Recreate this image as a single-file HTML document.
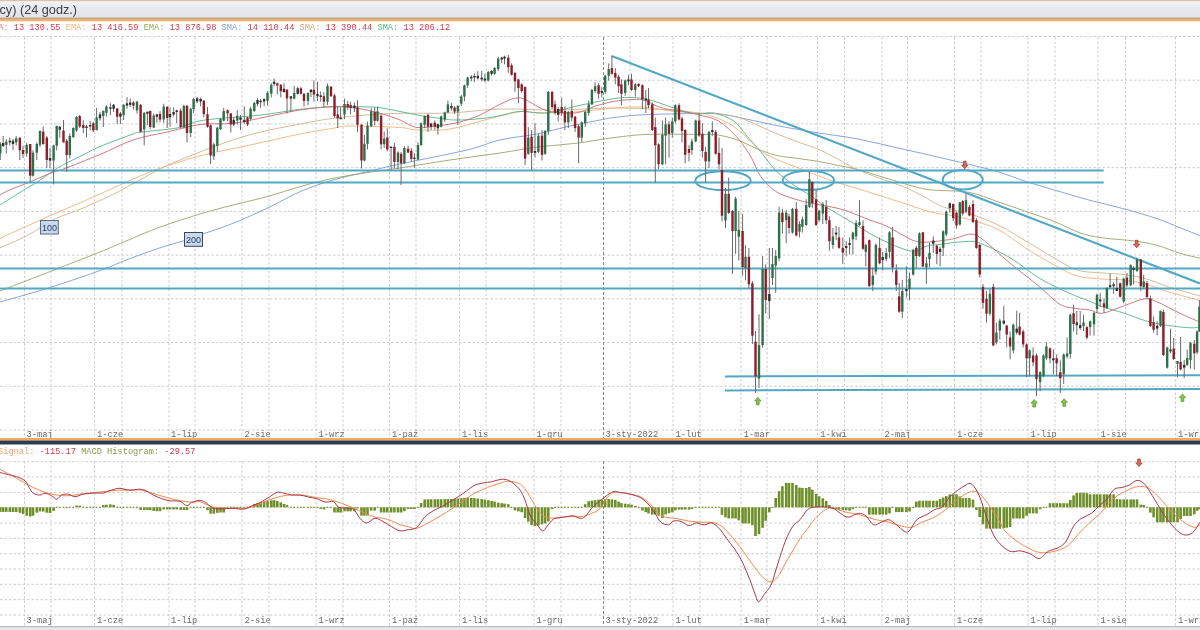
<!DOCTYPE html>
<html><head><meta charset="utf-8"><title>Chart</title>
<style>html,body{margin:0;padding:0;background:#fff;width:1200px;height:630px;overflow:hidden}svg{display:block;filter:blur(0.3px)}</style>
</head><body><svg width="1200" height="630" viewBox="0 0 1200 630"><rect width="1200" height="630" fill="#fff"/><g stroke="#cdcdcd" stroke-width="1" stroke-dasharray="2.5,2"><line x1="0" y1="36.5" x2="1200" y2="36.5"/><line x1="0" y1="80.2" x2="1200" y2="80.2"/><line x1="0" y1="123.9" x2="1200" y2="123.9"/><line x1="0" y1="167.7" x2="1200" y2="167.7"/><line x1="0" y1="211.4" x2="1200" y2="211.4"/><line x1="0" y1="255.1" x2="1200" y2="255.1"/><line x1="0" y1="298.8" x2="1200" y2="298.8"/><line x1="0" y1="342.5" x2="1200" y2="342.5"/><line x1="0" y1="386.3" x2="1200" y2="386.3"/><line x1="0" y1="430.0" x2="1200" y2="430.0"/><line x1="0" y1="461.7" x2="1200" y2="461.7"/><line x1="0" y1="477.0" x2="1200" y2="477.0"/><line x1="0" y1="492.4" x2="1200" y2="492.4"/><line x1="0" y1="507.7" x2="1200" y2="507.7"/><line x1="0" y1="523.0" x2="1200" y2="523.0"/><line x1="0" y1="538.4" x2="1200" y2="538.4"/><line x1="0" y1="553.7" x2="1200" y2="553.7"/><line x1="0" y1="569.0" x2="1200" y2="569.0"/><line x1="0" y1="584.3" x2="1200" y2="584.3"/><line x1="0" y1="599.7" x2="1200" y2="599.7"/><line x1="0" y1="615.0" x2="1200" y2="615.0"/><line x1="24.5" y1="37" x2="24.5" y2="438"/><line x1="24.5" y1="461" x2="24.5" y2="626"/><line x1="51" y1="37" x2="51" y2="438"/><line x1="51" y1="461" x2="51" y2="626"/><line x1="94.5" y1="37" x2="94.5" y2="438"/><line x1="94.5" y1="461" x2="94.5" y2="626"/><line x1="122" y1="37" x2="122" y2="438"/><line x1="122" y1="461" x2="122" y2="626"/><line x1="169" y1="37" x2="169" y2="438"/><line x1="169" y1="461" x2="169" y2="626"/><line x1="195" y1="37" x2="195" y2="438"/><line x1="195" y1="461" x2="195" y2="626"/><line x1="242" y1="37" x2="242" y2="438"/><line x1="242" y1="461" x2="242" y2="626"/><line x1="269" y1="37" x2="269" y2="438"/><line x1="269" y1="461" x2="269" y2="626"/><line x1="316" y1="37" x2="316" y2="438"/><line x1="316" y1="461" x2="316" y2="626"/><line x1="343" y1="37" x2="343" y2="438"/><line x1="343" y1="461" x2="343" y2="626"/><line x1="389.5" y1="37" x2="389.5" y2="438"/><line x1="389.5" y1="461" x2="389.5" y2="626"/><line x1="416" y1="37" x2="416" y2="438"/><line x1="416" y1="461" x2="416" y2="626"/><line x1="459.5" y1="37" x2="459.5" y2="438"/><line x1="459.5" y1="461" x2="459.5" y2="626"/><line x1="486" y1="37" x2="486" y2="438"/><line x1="486" y1="461" x2="486" y2="626"/><line x1="534" y1="37" x2="534" y2="438"/><line x1="534" y1="461" x2="534" y2="626"/><line x1="561" y1="37" x2="561" y2="438"/><line x1="561" y1="461" x2="561" y2="626"/><line x1="630" y1="37" x2="630" y2="438"/><line x1="630" y1="461" x2="630" y2="626"/><line x1="673" y1="37" x2="673" y2="438"/><line x1="673" y1="461" x2="673" y2="626"/><line x1="700" y1="37" x2="700" y2="438"/><line x1="700" y1="461" x2="700" y2="626"/><line x1="741" y1="37" x2="741" y2="438"/><line x1="741" y1="461" x2="741" y2="626"/><line x1="767" y1="37" x2="767" y2="438"/><line x1="767" y1="461" x2="767" y2="626"/><line x1="817.5" y1="37" x2="817.5" y2="438"/><line x1="817.5" y1="461" x2="817.5" y2="626"/><line x1="844.5" y1="37" x2="844.5" y2="438"/><line x1="844.5" y1="461" x2="844.5" y2="626"/><line x1="882" y1="37" x2="882" y2="438"/><line x1="882" y1="461" x2="882" y2="626"/><line x1="907.5" y1="37" x2="907.5" y2="438"/><line x1="907.5" y1="461" x2="907.5" y2="626"/><line x1="954.5" y1="37" x2="954.5" y2="438"/><line x1="954.5" y1="461" x2="954.5" y2="626"/><line x1="981" y1="37" x2="981" y2="438"/><line x1="981" y1="461" x2="981" y2="626"/><line x1="1028" y1="37" x2="1028" y2="438"/><line x1="1028" y1="461" x2="1028" y2="626"/><line x1="1055" y1="37" x2="1055" y2="438"/><line x1="1055" y1="461" x2="1055" y2="626"/><line x1="1098" y1="37" x2="1098" y2="438"/><line x1="1098" y1="461" x2="1098" y2="626"/><line x1="1125.5" y1="37" x2="1125.5" y2="438"/><line x1="1125.5" y1="461" x2="1125.5" y2="626"/><line x1="1175.5" y1="37" x2="1175.5" y2="438"/><line x1="1175.5" y1="461" x2="1175.5" y2="626"/></g><g stroke="#858585" stroke-width="1" stroke-dasharray="3,2" shape-rendering="crispEdges"><line x1="603.5" y1="37" x2="603.5" y2="438"/><line x1="603.5" y1="461" x2="603.5" y2="626"/></g><g font-family="Liberation Mono, monospace" font-size="8.8" fill="#6a6a6a"><text x="26.5" y="437.3">3-maj</text><text x="26.5" y="622.6">3-maj</text><text x="97" y="437.3">1-cze</text><text x="97" y="622.6">1-cze</text><text x="171" y="437.3">1-lip</text><text x="171" y="622.6">1-lip</text><text x="244.5" y="437.3">2-sie</text><text x="244.5" y="622.6">2-sie</text><text x="318.5" y="437.3">1-wrz</text><text x="318.5" y="622.6">1-wrz</text><text x="392" y="437.3">1-paź</text><text x="392" y="622.6">1-paź</text><text x="462" y="437.3">1-lis</text><text x="462" y="622.6">1-lis</text><text x="536.5" y="437.3">1-gru</text><text x="536.5" y="622.6">1-gru</text><text x="605.5" y="437.3">3-sty-2022</text><text x="605.5" y="622.6">3-sty-2022</text><text x="675.5" y="437.3">1-lut</text><text x="675.5" y="622.6">1-lut</text><text x="743.7" y="437.3">1-mar</text><text x="743.7" y="622.6">1-mar</text><text x="820.3" y="437.3">1-kwi</text><text x="820.3" y="622.6">1-kwi</text><text x="884.5" y="437.3">2-maj</text><text x="884.5" y="622.6">2-maj</text><text x="957" y="437.3">1-cze</text><text x="957" y="622.6">1-cze</text><text x="1030.5" y="437.3">1-lip</text><text x="1030.5" y="622.6">1-lip</text><text x="1100.5" y="437.3">1-sie</text><text x="1100.5" y="622.6">1-sie</text><text x="1178" y="437.3">1-wrz</text><text x="1178" y="622.6">1-wrz</text></g><path d="M0.0,302.0 C8.3,299.6 33.1,292.8 50.0,287.5 C66.9,282.2 88.8,274.6 101.6,270.0 C114.4,265.4 117.3,263.4 127.0,259.7 C136.7,256.0 150.7,250.9 160.0,247.8 C169.3,244.7 176.3,243.1 183.0,241.0 C189.7,238.9 191.7,237.9 200.0,235.0 C208.3,232.1 221.8,227.8 233.0,223.3 C244.2,218.9 255.8,213.6 267.0,208.3 C278.2,203.0 289.0,196.4 300.0,191.7 C311.0,187.0 321.8,183.3 333.0,180.0 C344.2,176.7 355.8,174.4 367.0,171.7 C378.2,169.0 383.3,167.6 400.0,164.0 C416.7,160.4 450.3,154.0 467.0,150.0 C483.7,146.0 488.2,142.7 500.0,140.0 C511.8,137.3 526.8,136.0 538.0,133.8 C549.2,131.6 556.7,129.0 567.0,126.7 C577.3,124.4 592.2,121.5 600.0,120.0 C607.8,118.5 606.8,118.5 614.0,117.6 C621.2,116.7 628.7,115.5 643.0,114.8 C657.3,114.1 686.9,113.6 700.0,113.5 C713.1,113.4 712.8,113.1 721.7,114.3 C730.6,115.5 743.8,118.6 753.5,120.6 C763.2,122.6 769.2,124.2 780.0,126.2 C790.8,128.2 805.3,130.8 818.0,132.9 C830.7,135.0 843.3,136.2 856.0,138.6 C868.7,141.0 881.3,144.2 894.0,147.1 C906.7,149.9 919.6,152.8 932.0,155.7 C944.4,158.6 957.8,161.7 968.6,164.3 C979.4,166.9 987.5,168.6 997.0,171.4 C1006.5,174.2 1016.2,178.3 1025.7,181.4 C1035.2,184.5 1043.8,186.9 1054.3,190.0 C1064.8,193.1 1077.2,196.8 1088.9,200.0 C1100.6,203.2 1112.9,205.8 1124.4,208.9 C1135.9,212.1 1148.5,215.8 1157.8,218.9 C1167.1,222.1 1173.0,225.0 1180.0,227.8 C1187.0,230.6 1196.7,234.3 1200.0,235.6" fill="none" stroke="#7c9ad8" stroke-width="0.9"/><path d="M0.0,291.0 C9.0,287.5 38.2,276.2 54.0,270.0 C69.8,263.8 82.8,258.9 95.0,254.0 C107.2,249.1 116.2,245.1 127.0,240.6 C137.8,236.1 147.8,231.5 160.0,227.1 C172.2,222.7 187.8,217.7 200.0,214.0 C212.2,210.3 221.8,207.9 233.0,205.0 C244.2,202.1 255.8,199.8 267.0,196.7 C278.2,193.6 289.0,189.8 300.0,186.7 C311.0,183.6 321.8,180.6 333.0,178.3 C344.2,176.0 355.8,174.4 367.0,172.7 C378.2,171.0 386.2,170.1 400.0,168.0 C413.8,165.9 433.3,162.5 450.0,160.0 C466.7,157.5 485.3,155.2 500.0,153.0 C514.7,150.8 525.3,148.6 538.0,147.0 C550.7,145.4 563.3,144.9 576.0,143.3 C588.7,141.7 602.0,139.1 614.0,137.6 C626.0,136.1 633.7,134.9 648.0,134.4 C662.3,133.9 688.2,134.3 700.0,134.4 C711.8,134.5 712.3,134.3 718.6,135.2 C724.9,136.1 731.2,137.8 737.6,140.0 C744.0,142.2 750.4,146.1 756.7,148.6 C763.1,151.1 768.7,153.5 775.7,155.2 C782.8,156.9 792.0,157.6 799.0,158.6 C806.0,159.6 811.7,160.3 818.0,161.4 C824.3,162.5 830.7,163.9 837.0,165.2 C843.3,166.5 849.7,167.4 856.0,169.0 C862.3,170.6 868.7,172.9 875.0,174.8 C881.3,176.7 887.7,178.6 894.0,180.5 C900.3,182.4 906.7,184.6 913.0,186.2 C919.3,187.8 922.7,189.0 932.0,190.0 C941.3,191.0 957.8,190.4 968.6,192.3 C979.4,194.2 987.5,198.2 997.0,201.4 C1006.5,204.6 1016.2,208.1 1025.7,211.4 C1035.2,214.7 1045.2,217.8 1054.3,221.4 C1063.3,225.0 1072.0,230.2 1080.0,232.9 C1088.0,235.6 1092.7,236.4 1102.0,237.8 C1111.3,239.2 1126.3,239.8 1135.6,241.1 C1144.9,242.4 1150.4,243.6 1157.8,245.6 C1165.2,247.6 1173.0,251.2 1180.0,253.3 C1187.0,255.4 1196.7,257.4 1200.0,258.2" fill="none" stroke="#9ca468" stroke-width="0.9"/><path d="M0.0,247.8 C4.2,246.0 18.3,240.0 25.0,236.7 C31.7,233.4 34.8,230.9 40.0,227.9 C45.2,224.9 49.5,221.4 56.0,218.4 C62.5,215.4 69.8,213.5 79.0,209.7 C88.2,205.9 101.7,199.9 111.0,195.4 C120.3,190.9 126.0,187.5 135.0,182.7 C144.0,177.9 153.6,171.8 165.0,166.5 C176.4,161.2 192.2,155.0 203.5,150.6 C214.8,146.2 223.6,143.1 233.0,140.0 C242.4,136.9 248.8,134.9 260.0,132.2 C271.2,129.5 287.8,126.3 300.0,124.0 C312.2,121.7 321.8,119.8 333.0,118.3 C344.2,116.8 355.8,115.8 367.0,115.0 C378.2,114.2 386.2,113.6 400.0,113.3 C413.8,113.0 433.3,113.7 450.0,113.0 C466.7,112.3 482.2,109.5 500.0,109.0 C517.8,108.5 538.0,110.2 557.0,110.0 C576.0,109.8 595.0,108.0 614.0,108.0 C633.0,108.0 656.7,109.2 671.0,110.0 C685.3,110.8 692.7,112.5 700.0,113.0 C707.3,113.5 708.5,112.6 714.8,113.3 C721.1,114.0 730.6,115.2 737.6,117.1 C744.6,119.0 750.4,122.1 756.7,124.8 C763.1,127.5 768.7,130.4 775.7,133.3 C782.8,136.2 792.0,139.8 799.0,142.4 C806.0,145.0 811.7,146.3 818.0,149.0 C824.3,151.7 830.7,155.3 837.0,158.6 C843.3,161.9 848.8,165.7 856.0,169.0 C863.2,172.3 871.8,175.3 880.0,178.4 C888.2,181.5 897.7,184.2 905.0,187.3 C912.3,190.4 917.6,193.5 924.0,196.8 C930.4,200.1 935.0,203.9 943.5,207.0 C952.0,210.1 965.6,212.3 975.0,215.5 C984.4,218.7 991.5,221.8 1000.0,226.0 C1008.5,230.2 1016.7,235.7 1025.7,241.0 C1034.8,246.3 1045.8,253.2 1054.3,258.0 C1062.8,262.8 1069.0,267.5 1077.0,270.0 C1085.0,272.5 1094.2,272.2 1102.0,273.0 C1109.8,273.8 1116.5,273.5 1124.0,274.5 C1131.5,275.5 1139.2,276.9 1146.7,279.0 C1154.2,281.1 1160.0,284.2 1168.9,287.0 C1177.8,289.8 1194.8,294.5 1200.0,296.0" fill="none" stroke="#cfb48c" stroke-width="0.9"/><path d="M0.0,238.3 C4.2,236.4 16.5,230.8 25.0,227.0 C33.5,223.2 42.0,219.1 51.0,215.2 C60.0,211.2 69.0,207.7 79.0,203.3 C89.0,198.9 100.3,193.8 111.0,189.0 C121.7,184.2 134.0,178.6 143.0,174.8 C152.0,171.1 154.9,169.8 165.0,166.5 C175.1,163.2 189.3,158.6 203.5,155.0 C217.7,151.4 233.9,148.5 250.0,145.0 C266.1,141.5 286.2,136.8 300.0,134.0 C313.8,131.2 324.7,129.6 333.0,128.3 C341.3,127.0 338.8,126.1 350.0,126.0 C361.2,125.9 388.8,126.8 400.0,127.5 C411.2,128.2 408.7,129.8 417.0,130.0 C425.3,130.2 438.7,130.7 450.0,129.0 C461.3,127.3 473.3,122.9 485.0,120.0 C496.7,117.1 511.2,112.7 520.0,111.5 C528.8,110.3 528.7,112.8 538.0,112.9 C547.3,113.0 563.3,112.7 576.0,111.9 C588.7,111.1 602.8,108.8 614.0,108.0 C625.2,107.2 633.5,106.6 643.0,107.1 C652.5,107.6 661.5,110.0 671.0,111.0 C680.5,112.0 693.7,112.7 700.0,113.4 C706.3,114.1 704.3,113.6 709.0,115.2 C713.7,116.8 722.3,119.7 728.0,122.9 C733.7,126.1 737.9,129.7 743.3,134.3 C748.7,138.9 755.1,146.4 760.5,150.5 C765.9,154.6 769.3,156.1 775.7,159.0 C782.1,161.9 792.0,165.3 799.0,168.1 C806.0,170.9 811.7,173.3 818.0,175.7 C824.3,178.1 830.7,180.3 837.0,182.4 C843.3,184.5 848.8,185.9 856.0,188.1 C863.2,190.3 871.8,193.0 880.0,195.6 C888.2,198.2 896.9,201.1 905.4,203.8 C913.9,206.5 923.4,210.1 930.8,212.0 C938.2,213.9 942.4,213.7 949.8,215.2 C957.2,216.7 966.6,218.4 975.0,221.0 C983.4,223.6 991.5,226.0 1000.0,230.5 C1008.5,235.0 1016.7,242.2 1025.7,248.0 C1034.8,253.8 1045.8,260.3 1054.3,265.0 C1062.8,269.7 1069.0,273.7 1077.0,276.0 C1085.0,278.3 1094.2,278.3 1102.0,279.0 C1109.8,279.7 1116.5,279.1 1124.0,280.0 C1131.5,280.9 1139.2,282.5 1146.7,284.5 C1154.2,286.5 1160.0,289.3 1168.9,292.0 C1177.8,294.7 1194.8,299.1 1200.0,300.5" fill="none" stroke="#f3b27c" stroke-width="0.9"/><path d="M0.0,205.0 C4.0,202.5 17.7,193.8 23.8,190.0 C29.9,186.2 31.8,185.6 36.5,182.5 C41.2,179.4 47.5,174.7 52.0,171.7 C56.5,168.7 58.3,167.4 63.5,164.6 C68.7,161.8 76.9,158.0 83.0,155.0 C89.1,152.0 91.7,150.0 100.0,146.5 C108.3,143.0 126.3,136.4 133.0,134.0 C139.7,131.6 132.5,133.2 140.0,132.2 C147.5,131.2 167.4,129.8 178.0,127.8 C188.6,125.8 189.8,122.3 203.5,120.2 C217.2,118.1 243.9,116.9 260.0,115.1 C276.1,113.3 287.8,110.7 300.0,109.3 C312.2,107.9 323.0,107.1 333.0,106.7 C343.0,106.3 352.2,106.5 360.0,106.7 C367.8,106.9 373.3,106.9 380.0,107.7 C386.7,108.5 393.3,110.2 400.0,111.5 C406.7,112.8 412.5,114.2 420.0,115.5 C427.5,116.8 439.2,118.2 445.0,119.0 C450.8,119.8 450.8,119.9 455.0,120.0 C459.2,120.1 464.2,119.9 470.0,119.5 C475.8,119.1 484.2,118.3 490.0,117.5 C495.8,116.7 500.0,115.5 505.0,114.5 C510.0,113.5 512.8,111.8 520.0,111.5 C527.2,111.2 538.7,113.8 548.0,112.9 C557.3,112.0 565.0,108.6 576.0,106.2 C587.0,103.8 604.5,100.0 614.0,98.6 C623.5,97.2 627.2,97.4 633.0,97.6 C638.8,97.8 642.3,97.9 648.6,99.5 C654.9,101.1 664.1,104.8 671.0,107.0 C677.9,109.2 685.2,111.8 690.0,112.9 C694.8,114.0 695.9,113.7 700.0,113.8 C704.1,113.9 709.2,112.1 714.8,113.3 C720.4,114.5 728.4,117.2 733.8,121.0 C739.2,124.8 742.5,131.1 747.0,136.2 C751.5,141.3 755.7,145.7 760.5,151.4 C765.3,157.1 770.0,164.8 775.7,170.5 C781.4,176.2 789.1,181.6 794.8,185.7 C800.5,189.8 804.9,191.7 810.0,195.2 C815.1,198.7 818.6,202.1 825.4,206.5 C832.2,210.9 842.3,216.6 850.8,221.7 C859.3,226.8 867.7,232.6 876.2,237.0 C884.7,241.4 895.2,246.1 901.6,248.4 C908.0,250.7 910.1,251.4 914.3,251.0 C918.5,250.6 922.7,247.1 927.0,246.0 C931.3,244.9 933.1,245.1 940.0,244.3 C946.9,243.5 961.5,241.4 968.6,241.4 C975.8,241.4 975.8,241.4 982.9,244.3 C990.0,247.2 1001.9,252.9 1011.4,258.6 C1020.9,264.3 1030.5,272.9 1040.0,278.6 C1049.5,284.3 1060.3,289.1 1068.6,292.9 C1076.9,296.7 1084.4,299.1 1090.0,301.4 C1095.6,303.7 1096.5,304.7 1102.2,306.7 C1107.9,308.7 1117.0,310.9 1124.4,313.3 C1131.8,315.7 1139.3,319.1 1146.7,321.1 C1154.1,323.2 1161.5,324.5 1168.9,325.6 C1176.3,326.7 1185.9,327.6 1191.1,327.8 C1196.3,328.0 1198.5,326.9 1200.0,326.7" fill="none" stroke="#52b487" stroke-width="0.9"/><path d="M0.0,195.0 C1.6,194.2 4.7,192.1 9.5,190.0 C14.3,187.9 21.5,185.4 28.6,182.5 C35.7,179.6 46.2,174.8 52.0,172.5 C57.8,170.2 55.5,172.0 63.5,169.0 C71.5,166.0 88.4,159.3 100.0,154.5 C111.6,149.7 121.8,143.8 133.0,140.0 C144.2,136.2 155.8,134.6 167.0,132.0 C178.2,129.4 189.0,126.0 200.0,124.5 C211.0,123.0 221.8,124.6 233.0,123.3 C244.2,122.0 255.8,118.9 267.0,116.7 C278.2,114.5 289.0,111.7 300.0,110.0 C311.0,108.3 323.5,107.0 333.0,106.7 C342.5,106.4 349.2,107.2 357.0,108.3 C364.8,109.4 372.8,111.3 380.0,113.3 C387.2,115.2 393.8,117.6 400.0,120.0 C406.2,122.4 410.3,126.6 417.0,127.5 C423.7,128.4 432.8,126.4 440.0,125.5 C447.2,124.6 453.3,123.8 460.0,122.0 C466.7,120.2 473.3,118.0 480.0,115.0 C486.7,112.0 494.2,107.1 500.0,104.3 C505.8,101.5 510.8,99.0 515.0,98.2 C519.2,97.4 519.5,97.4 525.0,99.5 C530.5,101.6 539.5,108.8 548.0,111.0 C556.5,113.2 568.2,113.7 576.0,112.9 C583.8,112.1 588.7,108.1 595.0,106.2 C601.3,104.3 607.7,102.5 614.0,101.4 C620.3,100.3 627.8,99.7 633.0,99.5 C638.2,99.3 640.2,99.1 645.0,100.5 C649.8,101.9 654.5,105.9 662.0,108.0 C669.5,110.1 683.8,111.7 690.0,112.9 C696.2,114.1 694.7,113.9 699.5,115.2 C704.3,116.5 712.2,117.2 718.6,121.0 C725.0,124.8 732.2,132.0 737.6,138.0 C743.0,144.0 747.2,150.6 751.0,157.0 C754.8,163.4 756.4,170.5 760.5,176.2 C764.6,181.9 770.0,187.6 775.7,191.4 C781.4,195.2 789.1,197.1 794.8,199.0 C800.5,200.9 804.6,201.8 810.0,203.0 C815.4,204.2 821.0,204.7 827.0,206.0 C833.0,207.3 838.8,208.3 846.0,210.7 C853.2,213.1 863.5,217.7 870.0,220.2 C876.5,222.7 879.7,223.1 885.0,225.5 C890.3,227.9 896.7,231.8 901.6,234.4 C906.5,237.0 910.1,239.5 914.3,240.8 C918.5,242.1 920.6,242.4 927.0,242.1 C933.4,241.8 945.5,240.3 952.4,239.0 C959.3,237.7 964.5,234.9 968.6,234.3 C972.7,233.8 973.8,234.0 977.1,235.7 C980.4,237.4 982.9,239.5 988.6,244.3 C994.3,249.1 1002.8,257.2 1011.4,264.3 C1020.0,271.4 1031.9,280.4 1040.0,287.1 C1048.1,293.8 1053.8,300.7 1060.0,304.3 C1066.2,307.9 1072.0,307.7 1077.0,308.6 C1082.0,309.6 1085.8,309.2 1090.0,310.0 C1094.2,310.8 1096.5,314.0 1102.2,313.3 C1107.9,312.6 1117.4,308.0 1124.4,305.6 C1131.4,303.2 1138.8,299.5 1144.4,298.9 C1150.0,298.3 1151.9,299.8 1157.8,302.2 C1163.7,304.6 1173.0,310.0 1180.0,313.3 C1187.0,316.6 1196.7,320.7 1200.0,322.2" fill="none" stroke="#cc6a70" stroke-width="0.9"/><g stroke="#52a8c4" stroke-width="2" fill="none"><line x1="0" y1="170.5" x2="1103.7" y2="170.5"/><line x1="0" y1="182.5" x2="1103.7" y2="182.5"/><line x1="0" y1="268.4" x2="1200" y2="268.4"/><line x1="0" y1="288.5" x2="1200" y2="288.5"/><line x1="725" y1="376.4" x2="1200" y2="375.2"/><line x1="725" y1="390.4" x2="1200" y2="389"/><line x1="611.7" y1="55.9" x2="1200" y2="283.5" stroke-width="2.1"/><ellipse cx="723" cy="180.7" rx="27.7" ry="9.4"/><ellipse cx="808.4" cy="180.4" rx="25.7" ry="9.6"/><ellipse cx="962.7" cy="179.8" rx="20" ry="9.7"/></g><path d="M0.3,142.0V160.0M3.2,136.0V147.0M6.3,139.0V153.5M9.8,137.6V145.6M13.0,139.0V150.0M16.2,136.0V145.6M19.8,137.6V160.0M23.0,145.6V158.0M26.7,143.0V156.7M30.2,144.0V182.0M33.0,150.3V176.5M36.8,142.4V160.0M40.0,130.5V147.0M43.2,126.5V144.8M46.8,136.0V167.8M50.0,148.0V167.8M53.6,144.8V184.4M56.7,125.7V150.3M59.8,125.7V137.6M63.5,120.0V142.4M66.7,139.0V171.7M69.8,133.6V158.3M73.3,127.3V137.6M76.5,116.2V132.0M79.7,115.0V128.0M83.3,120.2V132.9M86.5,125.0V137.6M90.2,121.0V130.5M93.3,121.7V132.0M96.6,108.0V130.5M100.0,112.0V120.7M103.3,110.4V127.0M106.4,105.3V116.7M110.4,103.3V115.2M113.6,104.0V112.0M117.2,108.0V124.0M120.4,112.0V124.0M123.6,104.0V120.0M127.0,97.0V108.8M130.2,98.5V107.0M133.4,101.0V109.6M137.0,100.9V113.6M140.6,104.0V132.6M144.2,112.0V145.3M147.4,111.7V125.0M150.2,110.5V129.0M153.7,113.6V128.0M156.9,113.7V122.8M160.0,111.2V122.3M163.7,103.7V122.8M167.2,106.4V128.0M170.0,107.3V126.7M173.6,107.3V116.4M176.7,109.6V123.0M180.7,108.4V128.6M183.9,104.8V128.6M187.0,104.8V142.3M190.7,107.9V137.2M193.6,97.7V113.0M197.1,96.7V103.0M200.6,97.5V106.3M203.8,100.0V117.4M207.5,107.0V127.7M210.6,124.5V164.2M213.8,142.8V160.0M217.3,126.9V151.5M220.5,118.2V130.0M223.7,107.9V121.3M227.6,109.4V121.3M230.8,113.4V132.5M233.7,117.4V126.1M237.3,110.2V124.5M240.5,115.0V130.0M244.3,106.3V123.7M247.5,116.6V126.0M250.6,106.6V119.8M254.3,101.8V111.8M257.5,98.3V106.3M260.6,99.0V107.9M264.1,98.3V106.3M267.5,91.2V105.5M271.3,83.3V97.5M274.1,78.5V86.4M277.3,82.5V94.4M280.8,84.0V97.5M284.0,83.3V92.8M287.0,88.9V113.5M290.9,96.2V112.0M294.2,85.9V99.4M297.7,86.7V94.6M300.9,86.7V94.6M304.0,93.0V106.5M308.0,92.2V105.0M310.9,89.0V97.0M313.9,80.3V101.7M317.5,81.9V101.0M320.7,91.4V101.7M323.9,92.2V107.3M327.5,83.5V105.0M331.0,85.9V97.0M334.5,93.8V117.6M337.7,106.5V128.0M340.6,107.3V119.2M344.5,98.6V119.2M347.7,101.0V109.7M350.6,101.7V114.4M354.4,102.5V112.0M357.5,100.0V131.9M361.5,124.0V168.4M364.4,135.0V161.3M367.5,121.6V149.4M371.2,108.1V127.1M374.7,107.3V125.6M377.5,106.5V121.6M381.1,114.4V149.4M384.2,131.6V148.0M387.3,128.4V151.3M391.1,146.2V169.7M394.4,143.0V168.4M398.0,151.3V169.0M401.1,152.0V185.0M404.4,146.2V164.0M408.1,145.6V153.2M411.3,148.0V161.4M414.4,153.2V167.8M418.0,142.4V160.2M421.1,122.7V145.8M424.7,115.5V128.3M428.0,114.0V132.0M431.1,122.7V129.8M434.8,120.3V129.8M437.9,123.5V134.6M441.1,115.5V127.5M444.8,111.6V121.9M447.9,100.5V113.2M451.4,102.9V110.8M454.6,106.0V114.0M457.8,105.0V125.0M461.3,94.9V106.0M464.4,84.6V101.3M467.6,76.7V87.8M471.3,75.1V81.4M474.4,73.5V82.2M477.8,71.1V79.5M481.7,71.0V81.4M484.9,73.8V82.4M488.3,71.0V81.4M491.6,70.0V75.7M494.6,67.1V74.8M498.2,56.7V71.0M501.7,56.7V63.3M504.5,55.7V64.3M508.3,54.8V72.9M511.6,63.3V75.7M515.0,71.9V91.9M518.4,78.6V103.3M521.7,83.3V92.9M525.1,86.2V165.2M528.3,127.1V154.8M531.6,130.0V170.0M535.0,123.3V157.6M538.4,133.8V152.9M542.0,130.0V160.5M545.1,130.0V154.8M548.3,91.0V134.8M552.1,91.0V109.0M555.0,100.5V114.8M558.2,107.1V121.4M561.7,97.6V115.7M564.9,106.2V130.0M568.3,111.0V128.1M571.8,99.5V121.4M575.1,116.0V131.9M578.6,124.3V163.3M581.8,121.4V142.4M585.2,111.0V127.1M588.7,100.5V115.7M591.9,89.0V105.2M595.1,82.4V92.9M598.6,83.3V98.6M601.8,87.1V97.6M605.2,74.8V93.8M608.7,63.3V80.5M611.9,55.7V74.8M615.3,68.1V84.3M618.6,74.8V92.9M621.4,79.5V105.2M625.2,79.5V95.7M628.5,74.8V85.2M631.5,73.8V91.0M635.3,83.3V96.7M638.6,83.3V87.1M642.4,84.3V109.0M645.8,90.0V112.9M648.5,88.1V108.1M652.3,102.4V131.0M655.3,117.6V182.4M658.6,143.3V169.0M662.4,120.5V165.2M665.6,117.6V164.3M669.0,121.4V157.6M672.3,117.6V137.6M675.3,104.3V123.3M679.0,103.3V120.5M682.0,116.7V142.4M685.2,129.0V163.3M689.0,145.2V161.4M691.9,138.6V154.8M695.7,119.5V142.4M699.1,112.9V136.7M702.4,123.3V157.6M705.6,147.1V182.4M709.0,131.0V168.1M712.3,121.4V135.7M715.7,130.0V154.8M719.0,137.6V169.0M722.0,148.0V221.4M725.5,188.0V228.0M728.7,177.6V213.8M732.5,210.0V273.8M735.6,196.7V253.8M738.8,211.0V260.5M742.6,213.8V275.7M745.5,245.2V280.5M748.9,248.0V288.0M752.4,281.0V344.0M755.5,331.0V392.9M759.0,314.3V388.0M762.6,256.0V347.6M765.7,264.3V313.0M769.3,248.0V319.0M772.5,248.0V285.0M775.7,250.0V292.9M779.1,206.9V261.2M782.4,208.8V233.6M786.2,209.8V243.1M789.0,213.6V233.6M792.5,207.9V233.6M796.3,202.1V236.4M799.5,221.2V237.4M802.4,216.4V232.6M806.2,199.3V226.0M809.4,171.7V207.9M812.3,181.2V207.9M816.1,189.8V226.0M819.1,209.8V222.1M822.8,202.1V224.0M826.2,200.2V224.0M829.4,216.4V250.7M832.9,227.9V248.8M836.1,226.0V240.2M839.0,226.9V248.8M842.8,237.4V264.0M846.2,241.2V256.4M849.6,237.4V254.5M852.9,231.7V254.5M856.1,220.2V240.2M859.5,200.2V226.0M863.0,220.2V249.8M865.8,243.7V266.4M869.3,239.5V287.0M872.8,267.4V291.0M875.9,243.7V274.6M879.6,237.5V264.3M882.7,251.9V270.5M886.2,247.8V261.2M889.5,231.3V258.1M892.6,227.1V272.5M896.3,264.3V291.0M899.2,282.9V312.8M902.3,279.8V318.0M906.4,266.4V297.3M909.5,272.5V300.4M913.2,248.8V275.6M916.3,245.7V268.4M919.4,232.3V257.0M922.9,232.3V267.4M926.4,257.0V283.9M929.5,242.6V267.4M933.3,236.4V252.9M936.8,244.7V264.3M940.1,246.7V266.4M943.2,230.2V256.0M946.3,210.6V236.4M949.8,202.4V212.7M953.2,203.4V221.0M956.5,211.7V228.8M959.8,202.0V225.5M962.7,200.2V215.5M966.0,193.6V212.6M969.4,205.0V216.4M973.0,200.2V223.1M976.4,218.3V248.8M979.7,244.0V277.4M983.0,284.0V308.7M986.5,290.9V322.6M989.9,288.9V315.7M993.3,283.9V346.4M996.4,322.6V344.4M999.8,318.7V339.5M1003.8,305.8V324.6M1006.7,324.6V347.4M1010.1,331.5V359.3M1013.3,323.6V353.4M1016.7,310.7V334.5M1019.6,312.7V335.5M1023.2,329.6V347.4M1026.6,343.5V377.2M1029.6,349.4V376.2M1033.1,347.4V366.3M1036.5,353.4V396.0M1040.1,371.2V391.0M1043.5,354.4V377.2M1046.4,342.5V360.3M1050.0,347.4V363.3M1053.4,349.4V374.2M1056.7,354.4V376.2M1060.3,360.3V393.0M1063.7,353.4V384.1M1067.1,337.5V358.5M1070.3,313.5V358.6M1073.6,304.5V331.5M1076.8,311.0V334.8M1080.2,311.0V330.0M1083.5,314.8V331.0M1086.9,326.2V339.5M1090.1,320.5V335.7M1094.0,311.9V335.7M1097.0,293.8V312.9M1100.2,292.9V307.1M1104.0,298.6V312.9M1106.9,287.1V309.0M1110.1,273.8V288.1M1113.6,282.4V293.8M1116.8,276.7V291.0M1120.2,282.4V297.6M1123.7,277.6V303.3M1126.9,272.9V287.1M1130.7,264.3V286.2M1133.6,266.2V284.3M1137.0,257.6V271.9M1140.8,258.6V291.0M1143.7,274.8V289.0M1147.0,281.0V299.0M1150.4,295.7V327.1M1153.6,316.5V332.7M1157.2,321.2V335.5M1160.5,310.7V327.0M1163.4,309.7V356.0M1167.2,346.6V368.6M1170.5,328.6V353.3M1173.7,338.0V360.0M1177.5,361.0V377.1M1180.6,337.1V370.5M1184.2,360.0V378.1M1187.2,349.5V366.0M1190.5,341.9V368.6M1194.3,340.0V369.5M1197.1,330.5V354.3M1199.4,300.0V332.0" stroke="#6a6a6a" stroke-width="1" fill="none"/><g><rect x="-0.9" y="144.0" width="2.4" height="9.5" fill="#2b7049"/><rect x="2.0" y="143.0" width="2.4" height="3.0" fill="#303030"/><rect x="5.1" y="141.6" width="2.4" height="3.2" fill="#2b7049"/><rect x="8.6" y="140.8" width="2.4" height="1.6" fill="#303030"/><rect x="11.8" y="140.8" width="2.4" height="3.2" fill="#303030"/><rect x="15.0" y="138.4" width="2.4" height="4.0" fill="#2b7049"/><rect x="18.6" y="137.6" width="2.4" height="12.7" fill="#8e1d2b"/><rect x="21.8" y="150.0" width="2.4" height="4.0" fill="#8e1d2b"/><rect x="25.5" y="144.8" width="2.4" height="8.7" fill="#2b7049"/><rect x="29.0" y="144.0" width="2.4" height="31.7" fill="#8e1d2b"/><rect x="31.8" y="152.7" width="2.4" height="23.0" fill="#2b7049"/><rect x="35.6" y="144.0" width="2.4" height="8.7" fill="#2b7049"/><rect x="38.8" y="131.0" width="2.4" height="13.8" fill="#2b7049"/><rect x="42.0" y="131.6" width="2.4" height="12.4" fill="#8e1d2b"/><rect x="45.6" y="137.6" width="2.4" height="22.4" fill="#8e1d2b"/><rect x="48.8" y="158.0" width="2.4" height="2.6" fill="#303030"/><rect x="52.4" y="145.6" width="2.4" height="15.0" fill="#2b7049"/><rect x="55.5" y="126.0" width="2.4" height="19.6" fill="#2b7049"/><rect x="58.6" y="126.8" width="2.4" height="2.9" fill="#303030"/><rect x="62.3" y="130.5" width="2.4" height="11.9" fill="#8e1d2b"/><rect x="65.5" y="140.8" width="2.4" height="14.2" fill="#8e1d2b"/><rect x="68.6" y="136.0" width="2.4" height="19.0" fill="#2b7049"/><rect x="72.1" y="128.0" width="2.4" height="9.3" fill="#2b7049"/><rect x="75.3" y="117.0" width="2.4" height="13.5" fill="#2b7049"/><rect x="78.5" y="116.0" width="2.4" height="10.5" fill="#8e1d2b"/><rect x="82.1" y="125.0" width="2.4" height="3.0" fill="#8e1d2b"/><rect x="85.3" y="126.5" width="2.4" height="1.5" fill="#303030"/><rect x="89.0" y="125.0" width="2.4" height="1.5" fill="#303030"/><rect x="92.1" y="123.3" width="2.4" height="7.2" fill="#8e1d2b"/><rect x="95.4" y="117.5" width="2.4" height="12.5" fill="#2b7049"/><rect x="98.8" y="114.4" width="2.4" height="3.9" fill="#303030"/><rect x="102.1" y="111.0" width="2.4" height="5.0" fill="#2b7049"/><rect x="105.2" y="106.4" width="2.4" height="6.4" fill="#2b7049"/><rect x="109.2" y="107.2" width="2.4" height="1.6" fill="#303030"/><rect x="112.4" y="104.8" width="2.4" height="4.0" fill="#303030"/><rect x="116.0" y="108.5" width="2.4" height="8.2" fill="#8e1d2b"/><rect x="119.2" y="113.6" width="2.4" height="3.1" fill="#303030"/><rect x="122.4" y="104.8" width="2.4" height="10.4" fill="#2b7049"/><rect x="125.8" y="103.3" width="2.4" height="2.3" fill="#303030"/><rect x="129.0" y="102.5" width="2.4" height="2.3" fill="#303030"/><rect x="132.2" y="102.5" width="2.4" height="3.1" fill="#8e1d2b"/><rect x="135.8" y="101.7" width="2.4" height="8.7" fill="#2b7049"/><rect x="139.4" y="104.8" width="2.4" height="27.0" fill="#8e1d2b"/><rect x="143.0" y="112.8" width="2.4" height="16.6" fill="#2b7049"/><rect x="146.2" y="111.7" width="2.4" height="2.0" fill="#303030"/><rect x="149.0" y="111.0" width="2.4" height="16.0" fill="#8e1d2b"/><rect x="152.5" y="115.5" width="2.4" height="12.0" fill="#2b7049"/><rect x="155.7" y="114.4" width="2.4" height="2.3" fill="#303030"/><rect x="158.8" y="114.0" width="2.4" height="5.6" fill="#8e1d2b"/><rect x="162.5" y="106.6" width="2.4" height="12.9" fill="#2b7049"/><rect x="166.0" y="106.7" width="2.4" height="11.3" fill="#8e1d2b"/><rect x="168.8" y="114.0" width="2.4" height="3.2" fill="#303030"/><rect x="172.4" y="112.0" width="2.4" height="2.6" fill="#303030"/><rect x="175.5" y="110.5" width="2.4" height="1.5" fill="#303030"/><rect x="179.5" y="110.6" width="2.4" height="16.4" fill="#8e1d2b"/><rect x="182.7" y="105.8" width="2.4" height="21.5" fill="#2b7049"/><rect x="185.8" y="105.8" width="2.4" height="27.2" fill="#8e1d2b"/><rect x="189.5" y="108.8" width="2.4" height="24.2" fill="#2b7049"/><rect x="192.4" y="99.0" width="2.4" height="10.0" fill="#2b7049"/><rect x="195.9" y="98.3" width="2.4" height="3.2" fill="#303030"/><rect x="199.4" y="99.0" width="2.4" height="2.5" fill="#303030"/><rect x="202.6" y="100.7" width="2.4" height="13.5" fill="#8e1d2b"/><rect x="206.3" y="114.2" width="2.4" height="12.7" fill="#8e1d2b"/><rect x="209.4" y="125.3" width="2.4" height="30.2" fill="#8e1d2b"/><rect x="212.6" y="144.4" width="2.4" height="11.9" fill="#2b7049"/><rect x="216.1" y="127.7" width="2.4" height="18.3" fill="#2b7049"/><rect x="219.3" y="119.0" width="2.4" height="10.3" fill="#2b7049"/><rect x="222.5" y="111.0" width="2.4" height="9.6" fill="#2b7049"/><rect x="226.4" y="110.2" width="2.4" height="3.2" fill="#8e1d2b"/><rect x="229.6" y="113.4" width="2.4" height="11.1" fill="#8e1d2b"/><rect x="232.5" y="119.8" width="2.4" height="4.7" fill="#303030"/><rect x="236.1" y="115.8" width="2.4" height="4.8" fill="#2b7049"/><rect x="239.3" y="117.4" width="2.4" height="2.4" fill="#303030"/><rect x="243.1" y="119.8" width="2.4" height="2.3" fill="#303030"/><rect x="246.3" y="117.4" width="2.4" height="7.1" fill="#8e1d2b"/><rect x="249.4" y="108.7" width="2.4" height="10.3" fill="#2b7049"/><rect x="253.1" y="103.0" width="2.4" height="8.0" fill="#2b7049"/><rect x="256.3" y="100.0" width="2.4" height="3.9" fill="#303030"/><rect x="259.4" y="100.7" width="2.4" height="1.6" fill="#303030"/><rect x="262.9" y="99.1" width="2.4" height="2.4" fill="#303030"/><rect x="266.3" y="92.8" width="2.4" height="7.9" fill="#2b7049"/><rect x="270.1" y="84.8" width="2.4" height="8.8" fill="#2b7049"/><rect x="272.9" y="81.7" width="2.4" height="2.3" fill="#303030"/><rect x="276.1" y="83.3" width="2.4" height="2.3" fill="#8e1d2b"/><rect x="279.6" y="84.8" width="2.4" height="6.4" fill="#8e1d2b"/><rect x="282.8" y="88.8" width="2.4" height="3.2" fill="#303030"/><rect x="285.8" y="89.7" width="2.4" height="8.7" fill="#8e1d2b"/><rect x="289.7" y="96.2" width="2.4" height="2.4" fill="#303030"/><rect x="293.0" y="93.0" width="2.4" height="5.6" fill="#2b7049"/><rect x="296.5" y="88.3" width="2.4" height="5.5" fill="#303030"/><rect x="299.7" y="88.3" width="2.4" height="5.5" fill="#8e1d2b"/><rect x="302.8" y="93.8" width="2.4" height="7.2" fill="#8e1d2b"/><rect x="306.8" y="93.0" width="2.4" height="8.0" fill="#2b7049"/><rect x="309.7" y="89.8" width="2.4" height="2.4" fill="#303030"/><rect x="312.7" y="89.8" width="2.4" height="4.8" fill="#8e1d2b"/><rect x="316.3" y="93.8" width="2.4" height="2.4" fill="#303030"/><rect x="319.5" y="95.4" width="2.4" height="1.6" fill="#303030"/><rect x="322.7" y="96.2" width="2.4" height="5.5" fill="#8e1d2b"/><rect x="326.3" y="85.9" width="2.4" height="15.8" fill="#2b7049"/><rect x="329.8" y="86.7" width="2.4" height="9.5" fill="#8e1d2b"/><rect x="333.3" y="95.4" width="2.4" height="20.6" fill="#8e1d2b"/><rect x="336.5" y="114.4" width="2.4" height="4.0" fill="#8e1d2b"/><rect x="339.4" y="117.6" width="2.4" height="1.6" fill="#303030"/><rect x="343.3" y="104.0" width="2.4" height="10.4" fill="#2b7049"/><rect x="346.5" y="104.0" width="2.4" height="3.3" fill="#8e1d2b"/><rect x="349.4" y="104.9" width="2.4" height="3.2" fill="#8e1d2b"/><rect x="353.2" y="105.7" width="2.4" height="2.4" fill="#303030"/><rect x="356.3" y="107.3" width="2.4" height="17.5" fill="#8e1d2b"/><rect x="360.3" y="124.8" width="2.4" height="35.7" fill="#8e1d2b"/><rect x="363.2" y="143.8" width="2.4" height="16.7" fill="#2b7049"/><rect x="366.3" y="125.6" width="2.4" height="18.2" fill="#2b7049"/><rect x="370.0" y="111.3" width="2.4" height="15.0" fill="#2b7049"/><rect x="373.5" y="112.0" width="2.4" height="8.8" fill="#8e1d2b"/><rect x="376.3" y="111.3" width="2.4" height="9.5" fill="#2b7049"/><rect x="379.9" y="115.7" width="2.4" height="28.6" fill="#8e1d2b"/><rect x="383.0" y="138.6" width="2.4" height="5.7" fill="#2b7049"/><rect x="386.1" y="137.5" width="2.4" height="11.9" fill="#8e1d2b"/><rect x="389.9" y="146.8" width="2.4" height="1.2" fill="#303030"/><rect x="393.2" y="146.8" width="2.4" height="15.2" fill="#8e1d2b"/><rect x="396.8" y="152.5" width="2.4" height="9.5" fill="#2b7049"/><rect x="399.9" y="153.8" width="2.4" height="9.5" fill="#8e1d2b"/><rect x="403.2" y="148.0" width="2.4" height="15.3" fill="#2b7049"/><rect x="406.9" y="148.7" width="2.4" height="3.8" fill="#8e1d2b"/><rect x="410.1" y="150.6" width="2.4" height="8.3" fill="#8e1d2b"/><rect x="413.2" y="157.6" width="2.4" height="1.3" fill="#303030"/><rect x="416.8" y="145.0" width="2.4" height="14.5" fill="#2b7049"/><rect x="419.9" y="123.4" width="2.4" height="21.6" fill="#2b7049"/><rect x="423.5" y="116.0" width="2.4" height="8.8" fill="#2b7049"/><rect x="426.8" y="114.8" width="2.4" height="11.9" fill="#8e1d2b"/><rect x="429.9" y="123.5" width="2.4" height="3.2" fill="#303030"/><rect x="433.6" y="122.7" width="2.4" height="4.0" fill="#8e1d2b"/><rect x="436.7" y="124.3" width="2.4" height="4.0" fill="#303030"/><rect x="439.9" y="116.3" width="2.4" height="10.4" fill="#2b7049"/><rect x="443.6" y="112.4" width="2.4" height="7.1" fill="#2b7049"/><rect x="446.7" y="104.4" width="2.4" height="8.0" fill="#2b7049"/><rect x="450.2" y="106.0" width="2.4" height="2.4" fill="#303030"/><rect x="453.4" y="107.6" width="2.4" height="4.0" fill="#8e1d2b"/><rect x="456.6" y="106.0" width="2.4" height="5.6" fill="#2b7049"/><rect x="460.1" y="96.5" width="2.4" height="7.2" fill="#2b7049"/><rect x="463.2" y="85.4" width="2.4" height="11.1" fill="#2b7049"/><rect x="466.4" y="77.5" width="2.4" height="7.9" fill="#2b7049"/><rect x="470.1" y="76.7" width="2.4" height="1.6" fill="#303030"/><rect x="473.2" y="75.9" width="2.4" height="1.6" fill="#303030"/><rect x="476.6" y="75.8" width="2.4" height="2.5" fill="#303030"/><rect x="480.5" y="77.6" width="2.4" height="1.9" fill="#303030"/><rect x="483.7" y="78.6" width="2.4" height="1.9" fill="#303030"/><rect x="487.1" y="71.9" width="2.4" height="8.6" fill="#2b7049"/><rect x="490.4" y="71.0" width="2.4" height="2.8" fill="#303030"/><rect x="493.4" y="68.0" width="2.4" height="5.8" fill="#2b7049"/><rect x="497.0" y="58.6" width="2.4" height="10.4" fill="#2b7049"/><rect x="500.5" y="57.6" width="2.4" height="1.9" fill="#303030"/><rect x="503.3" y="56.7" width="2.4" height="1.9" fill="#303030"/><rect x="507.1" y="57.6" width="2.4" height="9.5" fill="#8e1d2b"/><rect x="510.4" y="65.2" width="2.4" height="9.6" fill="#8e1d2b"/><rect x="513.8" y="72.9" width="2.4" height="8.5" fill="#8e1d2b"/><rect x="517.2" y="79.5" width="2.4" height="8.6" fill="#8e1d2b"/><rect x="520.5" y="84.3" width="2.4" height="6.7" fill="#8e1d2b"/><rect x="523.9" y="87.1" width="2.4" height="71.5" fill="#8e1d2b"/><rect x="527.1" y="137.6" width="2.4" height="16.2" fill="#2b7049"/><rect x="530.4" y="136.7" width="2.4" height="16.2" fill="#8e1d2b"/><rect x="533.8" y="151.0" width="2.4" height="1.9" fill="#303030"/><rect x="537.2" y="135.7" width="2.4" height="16.2" fill="#2b7049"/><rect x="540.8" y="135.7" width="2.4" height="19.1" fill="#8e1d2b"/><rect x="543.9" y="131.0" width="2.4" height="22.8" fill="#2b7049"/><rect x="547.1" y="91.9" width="2.4" height="39.1" fill="#2b7049"/><rect x="550.9" y="91.9" width="2.4" height="15.2" fill="#8e1d2b"/><rect x="553.8" y="104.3" width="2.4" height="8.6" fill="#8e1d2b"/><rect x="557.0" y="109.0" width="2.4" height="5.8" fill="#303030"/><rect x="560.5" y="107.0" width="2.4" height="5.9" fill="#8e1d2b"/><rect x="563.7" y="111.0" width="2.4" height="11.4" fill="#8e1d2b"/><rect x="567.1" y="112.0" width="2.4" height="10.4" fill="#2b7049"/><rect x="570.6" y="111.0" width="2.4" height="6.6" fill="#8e1d2b"/><rect x="573.9" y="116.7" width="2.4" height="11.4" fill="#8e1d2b"/><rect x="577.4" y="126.2" width="2.4" height="11.4" fill="#8e1d2b"/><rect x="580.6" y="122.4" width="2.4" height="15.2" fill="#2b7049"/><rect x="584.0" y="111.9" width="2.4" height="11.4" fill="#2b7049"/><rect x="587.5" y="104.3" width="2.4" height="8.6" fill="#2b7049"/><rect x="590.7" y="90.0" width="2.4" height="14.3" fill="#2b7049"/><rect x="593.9" y="86.2" width="2.4" height="4.8" fill="#2b7049"/><rect x="597.4" y="85.2" width="2.4" height="8.6" fill="#8e1d2b"/><rect x="600.6" y="91.0" width="2.4" height="1.9" fill="#303030"/><rect x="604.0" y="75.7" width="2.4" height="16.2" fill="#2b7049"/><rect x="607.5" y="69.0" width="2.4" height="6.7" fill="#2b7049"/><rect x="610.7" y="68.1" width="2.4" height="5.7" fill="#8e1d2b"/><rect x="614.1" y="72.9" width="2.4" height="4.7" fill="#8e1d2b"/><rect x="617.4" y="76.7" width="2.4" height="9.5" fill="#8e1d2b"/><rect x="620.2" y="84.3" width="2.4" height="9.5" fill="#8e1d2b"/><rect x="624.0" y="80.5" width="2.4" height="12.4" fill="#2b7049"/><rect x="627.3" y="79.5" width="2.4" height="1.9" fill="#303030"/><rect x="630.3" y="79.5" width="2.4" height="10.5" fill="#8e1d2b"/><rect x="634.1" y="84.3" width="2.4" height="5.7" fill="#2b7049"/><rect x="637.4" y="83.9" width="2.4" height="2.3" fill="#8e1d2b"/><rect x="641.2" y="85.2" width="2.4" height="14.3" fill="#8e1d2b"/><rect x="644.6" y="98.6" width="2.4" height="1.9" fill="#303030"/><rect x="647.3" y="99.5" width="2.4" height="5.7" fill="#8e1d2b"/><rect x="651.1" y="104.3" width="2.4" height="25.7" fill="#8e1d2b"/><rect x="654.1" y="127.1" width="2.4" height="18.1" fill="#8e1d2b"/><rect x="657.4" y="144.3" width="2.4" height="20.0" fill="#8e1d2b"/><rect x="661.2" y="134.8" width="2.4" height="29.5" fill="#2b7049"/><rect x="664.4" y="124.3" width="2.4" height="11.4" fill="#2b7049"/><rect x="667.8" y="124.3" width="2.4" height="9.5" fill="#8e1d2b"/><rect x="671.1" y="121.4" width="2.4" height="11.5" fill="#2b7049"/><rect x="674.1" y="105.2" width="2.4" height="16.2" fill="#2b7049"/><rect x="677.8" y="105.2" width="2.4" height="14.3" fill="#8e1d2b"/><rect x="680.8" y="118.6" width="2.4" height="12.4" fill="#8e1d2b"/><rect x="684.0" y="130.0" width="2.4" height="24.8" fill="#8e1d2b"/><rect x="687.8" y="149.0" width="2.4" height="3.9" fill="#8e1d2b"/><rect x="690.7" y="141.4" width="2.4" height="8.6" fill="#2b7049"/><rect x="694.5" y="120.5" width="2.4" height="20.9" fill="#2b7049"/><rect x="697.9" y="120.5" width="2.4" height="15.2" fill="#8e1d2b"/><rect x="701.2" y="133.8" width="2.4" height="17.2" fill="#8e1d2b"/><rect x="704.4" y="151.9" width="2.4" height="9.5" fill="#8e1d2b"/><rect x="707.8" y="131.9" width="2.4" height="29.5" fill="#2b7049"/><rect x="711.1" y="130.0" width="2.4" height="1.9" fill="#303030"/><rect x="714.5" y="131.9" width="2.4" height="21.9" fill="#8e1d2b"/><rect x="717.8" y="152.9" width="2.4" height="11.4" fill="#8e1d2b"/><rect x="720.8" y="170.0" width="2.4" height="45.7" fill="#8e1d2b"/><rect x="724.3" y="193.8" width="2.4" height="26.7" fill="#2b7049"/><rect x="727.5" y="193.8" width="2.4" height="19.1" fill="#8e1d2b"/><rect x="731.3" y="211.0" width="2.4" height="20.0" fill="#8e1d2b"/><rect x="734.4" y="198.6" width="2.4" height="32.4" fill="#2b7049"/><rect x="737.6" y="230.0" width="2.4" height="6.7" fill="#2b7049"/><rect x="741.4" y="231.0" width="2.4" height="36.0" fill="#8e1d2b"/><rect x="744.3" y="256.7" width="2.4" height="11.3" fill="#2b7049"/><rect x="747.7" y="256.7" width="2.4" height="27.6" fill="#8e1d2b"/><rect x="751.2" y="283.3" width="2.4" height="52.4" fill="#8e1d2b"/><rect x="754.3" y="341.7" width="2.4" height="34.5" fill="#8e1d2b"/><rect x="757.8" y="345.2" width="2.4" height="33.4" fill="#2b7049"/><rect x="761.4" y="269.0" width="2.4" height="76.2" fill="#2b7049"/><rect x="764.5" y="269.0" width="2.4" height="31.0" fill="#8e1d2b"/><rect x="768.1" y="294.0" width="2.4" height="7.2" fill="#303030"/><rect x="771.3" y="264.0" width="2.4" height="14.0" fill="#2b7049"/><rect x="774.5" y="256.0" width="2.4" height="9.5" fill="#2b7049"/><rect x="777.9" y="212.6" width="2.4" height="45.7" fill="#2b7049"/><rect x="781.2" y="212.6" width="2.4" height="9.5" fill="#8e1d2b"/><rect x="785.0" y="212.6" width="2.4" height="7.6" fill="#2b7049"/><rect x="787.8" y="216.4" width="2.4" height="11.5" fill="#8e1d2b"/><rect x="791.3" y="208.8" width="2.4" height="23.8" fill="#2b7049"/><rect x="795.1" y="208.8" width="2.4" height="26.7" fill="#8e1d2b"/><rect x="798.3" y="224.0" width="2.4" height="7.7" fill="#2b7049"/><rect x="801.2" y="219.3" width="2.4" height="7.6" fill="#2b7049"/><rect x="805.0" y="205.0" width="2.4" height="20.0" fill="#2b7049"/><rect x="808.2" y="179.3" width="2.4" height="27.6" fill="#2b7049"/><rect x="811.1" y="182.1" width="2.4" height="21.0" fill="#8e1d2b"/><rect x="814.9" y="199.3" width="2.4" height="25.7" fill="#8e1d2b"/><rect x="817.9" y="210.7" width="2.4" height="9.5" fill="#2b7049"/><rect x="821.6" y="204.0" width="2.4" height="9.6" fill="#2b7049"/><rect x="825.0" y="206.9" width="2.4" height="13.3" fill="#8e1d2b"/><rect x="828.2" y="220.2" width="2.4" height="21.0" fill="#8e1d2b"/><rect x="831.7" y="236.4" width="2.4" height="8.6" fill="#2b7049"/><rect x="834.9" y="232.6" width="2.4" height="1.9" fill="#303030"/><rect x="837.8" y="237.4" width="2.4" height="10.5" fill="#8e1d2b"/><rect x="841.6" y="247.9" width="2.4" height="4.7" fill="#8e1d2b"/><rect x="845.0" y="246.0" width="2.4" height="1.9" fill="#303030"/><rect x="848.4" y="243.0" width="2.4" height="2.0" fill="#303030"/><rect x="851.7" y="232.6" width="2.4" height="6.7" fill="#2b7049"/><rect x="854.9" y="223.1" width="2.4" height="13.3" fill="#2b7049"/><rect x="858.3" y="222.1" width="2.4" height="2.9" fill="#2b7049"/><rect x="861.8" y="226.0" width="2.4" height="22.8" fill="#8e1d2b"/><rect x="864.6" y="245.0" width="2.4" height="6.9" fill="#2b7049"/><rect x="868.1" y="240.2" width="2.4" height="45.8" fill="#8e1d2b"/><rect x="871.6" y="275.6" width="2.4" height="9.3" fill="#2b7049"/><rect x="874.7" y="244.7" width="2.4" height="26.8" fill="#2b7049"/><rect x="878.4" y="247.8" width="2.4" height="15.5" fill="#8e1d2b"/><rect x="881.5" y="257.0" width="2.4" height="3.2" fill="#303030"/><rect x="885.0" y="252.9" width="2.4" height="6.2" fill="#2b7049"/><rect x="888.3" y="232.3" width="2.4" height="19.6" fill="#2b7049"/><rect x="891.4" y="237.5" width="2.4" height="29.9" fill="#8e1d2b"/><rect x="895.1" y="270.5" width="2.4" height="14.4" fill="#8e1d2b"/><rect x="898.0" y="296.3" width="2.4" height="15.4" fill="#8e1d2b"/><rect x="901.1" y="291.1" width="2.4" height="20.6" fill="#2b7049"/><rect x="905.2" y="289.0" width="2.4" height="2.0" fill="#303030"/><rect x="908.3" y="278.7" width="2.4" height="10.3" fill="#2b7049"/><rect x="912.0" y="249.8" width="2.4" height="24.8" fill="#2b7049"/><rect x="915.1" y="247.8" width="2.4" height="8.2" fill="#8e1d2b"/><rect x="918.2" y="233.3" width="2.4" height="22.7" fill="#2b7049"/><rect x="921.7" y="232.3" width="2.4" height="34.1" fill="#8e1d2b"/><rect x="925.2" y="263.3" width="2.4" height="4.1" fill="#2b7049"/><rect x="928.3" y="252.9" width="2.4" height="6.2" fill="#2b7049"/><rect x="932.1" y="240.6" width="2.4" height="3.1" fill="#303030"/><rect x="935.6" y="245.7" width="2.4" height="8.3" fill="#8e1d2b"/><rect x="938.9" y="248.8" width="2.4" height="3.1" fill="#303030"/><rect x="942.0" y="231.3" width="2.4" height="16.5" fill="#2b7049"/><rect x="945.1" y="211.7" width="2.4" height="22.7" fill="#2b7049"/><rect x="948.6" y="203.4" width="2.4" height="4.5" fill="#303030"/><rect x="952.0" y="204.2" width="2.4" height="13.9" fill="#8e1d2b"/><rect x="955.3" y="212.6" width="2.4" height="12.9" fill="#8e1d2b"/><rect x="958.6" y="202.3" width="2.4" height="22.2" fill="#2b7049"/><rect x="961.5" y="201.2" width="2.4" height="12.4" fill="#8e1d2b"/><rect x="964.8" y="200.2" width="2.4" height="11.5" fill="#2b7049"/><rect x="968.2" y="206.9" width="2.4" height="8.6" fill="#8e1d2b"/><rect x="971.8" y="204.0" width="2.4" height="18.1" fill="#8e1d2b"/><rect x="975.2" y="220.2" width="2.4" height="27.7" fill="#8e1d2b"/><rect x="978.5" y="245.0" width="2.4" height="29.5" fill="#8e1d2b"/><rect x="981.8" y="286.9" width="2.4" height="15.9" fill="#8e1d2b"/><rect x="985.3" y="298.8" width="2.4" height="14.9" fill="#8e1d2b"/><rect x="988.7" y="293.8" width="2.4" height="19.9" fill="#2b7049"/><rect x="992.1" y="286.9" width="2.4" height="58.5" fill="#8e1d2b"/><rect x="995.2" y="332.5" width="2.4" height="10.0" fill="#2b7049"/><rect x="998.6" y="320.6" width="2.4" height="10.0" fill="#2b7049"/><rect x="1002.6" y="320.6" width="2.4" height="3.0" fill="#303030"/><rect x="1005.5" y="325.6" width="2.4" height="8.9" fill="#8e1d2b"/><rect x="1008.9" y="337.5" width="2.4" height="8.9" fill="#8e1d2b"/><rect x="1012.1" y="324.6" width="2.4" height="25.8" fill="#2b7049"/><rect x="1015.5" y="328.6" width="2.4" height="3.9" fill="#303030"/><rect x="1018.4" y="326.6" width="2.4" height="7.9" fill="#8e1d2b"/><rect x="1022.0" y="331.5" width="2.4" height="12.9" fill="#8e1d2b"/><rect x="1025.4" y="344.4" width="2.4" height="13.9" fill="#8e1d2b"/><rect x="1028.4" y="350.4" width="2.4" height="7.9" fill="#2b7049"/><rect x="1031.9" y="355.4" width="2.4" height="6.9" fill="#8e1d2b"/><rect x="1035.3" y="355.4" width="2.4" height="23.8" fill="#8e1d2b"/><rect x="1038.9" y="372.2" width="2.4" height="9.9" fill="#2b7049"/><rect x="1042.3" y="355.4" width="2.4" height="20.8" fill="#2b7049"/><rect x="1045.2" y="346.4" width="2.4" height="11.9" fill="#2b7049"/><rect x="1048.8" y="348.4" width="2.4" height="9.9" fill="#8e1d2b"/><rect x="1052.2" y="358.3" width="2.4" height="2.0" fill="#303030"/><rect x="1055.5" y="358.3" width="2.4" height="5.0" fill="#8e1d2b"/><rect x="1059.1" y="372.2" width="2.4" height="6.0" fill="#8e1d2b"/><rect x="1062.5" y="354.4" width="2.4" height="19.8" fill="#2b7049"/><rect x="1065.9" y="353.5" width="2.4" height="3.0" fill="#2b7049"/><rect x="1069.1" y="314.8" width="2.4" height="39.2" fill="#2b7049"/><rect x="1072.4" y="313.2" width="2.4" height="10.8" fill="#8e1d2b"/><rect x="1075.6" y="322.4" width="2.4" height="2.8" fill="#303030"/><rect x="1079.0" y="325.2" width="2.4" height="2.9" fill="#303030"/><rect x="1082.3" y="322.4" width="2.4" height="3.8" fill="#2b7049"/><rect x="1085.7" y="327.1" width="2.4" height="10.5" fill="#8e1d2b"/><rect x="1088.9" y="321.4" width="2.4" height="5.7" fill="#2b7049"/><rect x="1092.8" y="312.9" width="2.4" height="11.4" fill="#2b7049"/><rect x="1095.8" y="294.8" width="2.4" height="14.2" fill="#2b7049"/><rect x="1099.0" y="299.5" width="2.4" height="1.9" fill="#303030"/><rect x="1102.8" y="303.3" width="2.4" height="3.8" fill="#8e1d2b"/><rect x="1105.7" y="288.1" width="2.4" height="20.0" fill="#2b7049"/><rect x="1108.9" y="285.2" width="2.4" height="1.9" fill="#303030"/><rect x="1112.4" y="284.3" width="2.4" height="1.9" fill="#303030"/><rect x="1115.6" y="288.1" width="2.4" height="2.9" fill="#303030"/><rect x="1119.0" y="283.3" width="2.4" height="13.4" fill="#8e1d2b"/><rect x="1122.5" y="278.6" width="2.4" height="22.8" fill="#2b7049"/><rect x="1125.7" y="277.6" width="2.4" height="7.6" fill="#8e1d2b"/><rect x="1129.5" y="265.2" width="2.4" height="20.0" fill="#2b7049"/><rect x="1132.4" y="268.1" width="2.4" height="1.9" fill="#303030"/><rect x="1135.8" y="259.5" width="2.4" height="11.5" fill="#2b7049"/><rect x="1139.6" y="259.5" width="2.4" height="26.7" fill="#8e1d2b"/><rect x="1142.5" y="281.4" width="2.4" height="5.7" fill="#2b7049"/><rect x="1145.8" y="283.0" width="2.4" height="14.0" fill="#8e1d2b"/><rect x="1149.2" y="298.3" width="2.4" height="27.7" fill="#8e1d2b"/><rect x="1152.4" y="322.2" width="2.4" height="7.6" fill="#8e1d2b"/><rect x="1156.0" y="325.7" width="2.4" height="2.9" fill="#303030"/><rect x="1159.3" y="311.0" width="2.4" height="14.9" fill="#2b7049"/><rect x="1162.2" y="312.0" width="2.4" height="43.0" fill="#8e1d2b"/><rect x="1166.0" y="347.6" width="2.4" height="20.0" fill="#2b7049"/><rect x="1169.3" y="349.5" width="2.4" height="1.9" fill="#303030"/><rect x="1172.5" y="348.6" width="2.4" height="10.4" fill="#8e1d2b"/><rect x="1176.3" y="361.0" width="2.4" height="2.8" fill="#2b7049"/><rect x="1179.4" y="361.9" width="2.4" height="7.6" fill="#8e1d2b"/><rect x="1183.0" y="364.8" width="2.4" height="2.8" fill="#303030"/><rect x="1186.0" y="358.1" width="2.4" height="6.7" fill="#2b7049"/><rect x="1189.3" y="342.9" width="2.4" height="17.1" fill="#2b7049"/><rect x="1193.1" y="343.8" width="2.4" height="9.5" fill="#8e1d2b"/><rect x="1195.9" y="331.4" width="2.4" height="21.0" fill="#2b7049"/><rect x="1198.2" y="306.7" width="2.4" height="24.7" fill="#2b7049"/></g><g fill="#6f8f2a"><rect x="-1.0" y="507.3" width="2.6" height="4.6"/><rect x="1.9" y="507.3" width="2.6" height="4.6"/><rect x="5.0" y="507.3" width="2.6" height="4.6"/><rect x="8.5" y="507.3" width="2.6" height="4.7"/><rect x="11.7" y="507.3" width="2.6" height="4.7"/><rect x="14.9" y="507.3" width="2.6" height="4.7"/><rect x="18.5" y="507.3" width="2.6" height="5.5"/><rect x="21.7" y="507.3" width="2.6" height="6.7"/><rect x="25.4" y="507.3" width="2.6" height="8.4"/><rect x="28.9" y="507.3" width="2.6" height="9.2"/><rect x="31.7" y="507.3" width="2.6" height="8.4"/><rect x="35.5" y="507.3" width="2.6" height="5.4"/><rect x="38.7" y="507.3" width="2.6" height="4.1"/><rect x="41.9" y="507.3" width="2.6" height="4.3"/><rect x="45.5" y="507.3" width="2.6" height="5.4"/><rect x="48.7" y="507.3" width="2.6" height="5.7"/><rect x="52.3" y="507.3" width="2.6" height="3.6"/><rect x="55.9" y="506.7" width="1.6" height="1.2"/><rect x="59.0" y="506.7" width="1.6" height="1.2"/><rect x="62.7" y="506.7" width="1.6" height="1.2"/><rect x="65.9" y="506.7" width="1.6" height="1.2"/><rect x="69.0" y="506.7" width="1.6" height="1.2"/><rect x="72.5" y="506.7" width="1.6" height="1.2"/><rect x="75.2" y="505.6" width="2.6" height="1.7"/><rect x="78.4" y="505.6" width="2.6" height="1.7"/><rect x="82.5" y="506.7" width="1.6" height="1.2"/><rect x="85.7" y="506.7" width="1.6" height="1.2"/><rect x="89.4" y="506.7" width="1.6" height="1.2"/><rect x="92.5" y="506.7" width="1.6" height="1.2"/><rect x="95.8" y="506.7" width="1.6" height="1.2"/><rect x="99.2" y="506.7" width="1.6" height="1.2"/><rect x="102.0" y="505.0" width="2.6" height="2.3"/><rect x="105.1" y="504.7" width="2.6" height="2.6"/><rect x="109.1" y="504.4" width="2.6" height="2.9"/><rect x="112.3" y="504.8" width="2.6" height="2.5"/><rect x="116.4" y="506.7" width="1.6" height="1.2"/><rect x="119.6" y="506.7" width="1.6" height="1.2"/><rect x="122.8" y="506.7" width="1.6" height="1.2"/><rect x="126.2" y="506.7" width="1.6" height="1.2"/><rect x="129.4" y="506.7" width="1.6" height="1.2"/><rect x="132.6" y="506.7" width="1.6" height="1.2"/><rect x="136.2" y="506.7" width="1.6" height="1.2"/><rect x="139.3" y="507.3" width="2.6" height="2.7"/><rect x="142.9" y="507.3" width="2.6" height="2.7"/><rect x="146.1" y="507.3" width="2.6" height="2.7"/><rect x="148.9" y="507.3" width="2.6" height="2.7"/><rect x="152.4" y="507.3" width="2.6" height="3.6"/><rect x="155.6" y="507.3" width="2.6" height="3.9"/><rect x="158.7" y="507.3" width="2.6" height="3.9"/><rect x="162.4" y="507.3" width="2.6" height="2.1"/><rect x="165.9" y="507.3" width="2.6" height="2.1"/><rect x="168.7" y="507.3" width="2.6" height="2.1"/><rect x="172.3" y="507.3" width="2.6" height="2.1"/><rect x="175.4" y="507.3" width="2.6" height="2.1"/><rect x="179.4" y="507.3" width="2.6" height="2.6"/><rect x="182.6" y="507.3" width="2.6" height="2.7"/><rect x="185.7" y="507.3" width="2.6" height="2.7"/><rect x="189.9" y="506.7" width="1.6" height="1.2"/><rect x="192.8" y="506.7" width="1.6" height="1.2"/><rect x="196.3" y="506.7" width="1.6" height="1.2"/><rect x="199.8" y="506.7" width="1.6" height="1.2"/><rect x="203.0" y="506.7" width="1.6" height="1.2"/><rect x="206.2" y="507.3" width="2.6" height="2.9"/><rect x="209.3" y="507.3" width="2.6" height="6.4"/><rect x="212.5" y="507.3" width="2.6" height="6.4"/><rect x="216.0" y="507.3" width="2.6" height="5.6"/><rect x="219.2" y="507.3" width="2.6" height="5.2"/><rect x="222.4" y="507.3" width="2.6" height="5.2"/><rect x="226.8" y="506.7" width="1.6" height="1.2"/><rect x="230.0" y="506.7" width="1.6" height="1.2"/><rect x="232.9" y="506.7" width="1.6" height="1.2"/><rect x="236.5" y="506.7" width="1.6" height="1.2"/><rect x="239.7" y="506.7" width="1.6" height="1.2"/><rect x="243.5" y="506.7" width="1.6" height="1.2"/><rect x="246.7" y="506.7" width="1.6" height="1.2"/><rect x="249.8" y="506.7" width="1.6" height="1.2"/><rect x="253.0" y="503.9" width="2.6" height="3.4"/><rect x="256.2" y="503.1" width="2.6" height="4.2"/><rect x="259.3" y="502.4" width="2.6" height="4.9"/><rect x="262.8" y="501.6" width="2.6" height="5.7"/><rect x="266.2" y="501.0" width="2.6" height="6.3"/><rect x="270.0" y="500.3" width="2.6" height="7.0"/><rect x="272.8" y="500.2" width="2.6" height="7.1"/><rect x="276.0" y="500.9" width="2.6" height="6.4"/><rect x="279.5" y="502.4" width="2.6" height="4.9"/><rect x="282.7" y="504.0" width="2.6" height="3.3"/><rect x="285.7" y="505.1" width="2.6" height="2.2"/><rect x="290.1" y="506.7" width="1.6" height="1.2"/><rect x="293.4" y="506.7" width="1.6" height="1.2"/><rect x="296.9" y="506.7" width="1.6" height="1.2"/><rect x="300.1" y="506.7" width="1.6" height="1.2"/><rect x="303.2" y="506.7" width="1.6" height="1.2"/><rect x="307.2" y="506.7" width="1.6" height="1.2"/><rect x="310.1" y="506.7" width="1.6" height="1.2"/><rect x="313.1" y="506.7" width="1.6" height="1.2"/><rect x="316.7" y="506.7" width="1.6" height="1.2"/><rect x="319.4" y="507.3" width="2.6" height="1.5"/><rect x="322.6" y="507.3" width="2.6" height="2.1"/><rect x="326.7" y="506.7" width="1.6" height="1.2"/><rect x="330.2" y="506.7" width="1.6" height="1.2"/><rect x="333.2" y="507.3" width="2.6" height="5.2"/><rect x="336.4" y="507.3" width="2.6" height="5.2"/><rect x="339.3" y="507.3" width="2.6" height="5.2"/><rect x="343.2" y="507.3" width="2.6" height="4.0"/><rect x="346.4" y="507.3" width="2.6" height="4.0"/><rect x="349.3" y="507.3" width="2.6" height="4.0"/><rect x="353.1" y="507.3" width="2.6" height="4.0"/><rect x="356.2" y="507.3" width="2.6" height="1.2"/><rect x="360.2" y="507.3" width="2.6" height="8.3"/><rect x="363.1" y="507.3" width="2.6" height="8.3"/><rect x="366.2" y="507.3" width="2.6" height="8.3"/><rect x="369.9" y="507.3" width="2.6" height="3.3"/><rect x="373.4" y="507.3" width="2.6" height="3.3"/><rect x="376.7" y="506.7" width="1.6" height="1.2"/><rect x="379.8" y="507.3" width="2.6" height="5.2"/><rect x="382.9" y="507.3" width="2.6" height="5.2"/><rect x="386.0" y="507.3" width="2.6" height="5.2"/><rect x="389.8" y="507.3" width="2.6" height="5.2"/><rect x="393.1" y="507.3" width="2.6" height="5.2"/><rect x="396.7" y="507.3" width="2.6" height="5.2"/><rect x="399.8" y="507.3" width="2.6" height="5.2"/><rect x="403.1" y="507.3" width="2.6" height="3.9"/><rect x="406.8" y="507.3" width="2.6" height="1.7"/><rect x="410.0" y="507.3" width="2.6" height="1.7"/><rect x="413.1" y="507.3" width="2.6" height="1.7"/><rect x="417.2" y="506.7" width="1.6" height="1.2"/><rect x="419.8" y="503.0" width="2.6" height="4.3"/><rect x="423.4" y="499.4" width="2.6" height="7.9"/><rect x="426.7" y="499.3" width="2.6" height="8.0"/><rect x="429.8" y="499.3" width="2.6" height="8.0"/><rect x="433.5" y="499.3" width="2.6" height="8.0"/><rect x="436.6" y="499.2" width="2.6" height="8.1"/><rect x="439.8" y="499.2" width="2.6" height="8.1"/><rect x="443.5" y="499.1" width="2.6" height="8.2"/><rect x="446.6" y="499.0" width="2.6" height="8.3"/><rect x="450.1" y="498.9" width="2.6" height="8.4"/><rect x="453.3" y="498.8" width="2.6" height="8.5"/><rect x="456.5" y="498.6" width="2.6" height="8.7"/><rect x="460.0" y="498.3" width="2.6" height="9.0"/><rect x="463.1" y="497.9" width="2.6" height="9.4"/><rect x="466.3" y="497.6" width="2.6" height="9.8"/><rect x="470.0" y="497.8" width="2.6" height="9.5"/><rect x="473.1" y="498.1" width="2.6" height="9.2"/><rect x="476.5" y="498.5" width="2.6" height="8.8"/><rect x="480.4" y="499.0" width="2.6" height="8.3"/><rect x="483.6" y="499.6" width="2.6" height="7.7"/><rect x="487.0" y="500.2" width="2.6" height="7.1"/><rect x="490.3" y="500.9" width="2.6" height="6.4"/><rect x="493.3" y="501.6" width="2.6" height="5.7"/><rect x="496.9" y="502.6" width="2.6" height="4.8"/><rect x="500.4" y="503.2" width="2.6" height="4.1"/><rect x="503.2" y="503.6" width="2.6" height="3.7"/><rect x="507.0" y="504.2" width="2.6" height="3.1"/><rect x="510.8" y="506.7" width="1.6" height="1.2"/><rect x="513.7" y="507.3" width="2.6" height="3.2"/><rect x="517.1" y="507.3" width="2.6" height="4.1"/><rect x="520.4" y="507.3" width="2.6" height="4.9"/><rect x="523.8" y="507.3" width="2.6" height="10.8"/><rect x="527.0" y="507.3" width="2.6" height="14.3"/><rect x="530.3" y="507.3" width="2.6" height="17.9"/><rect x="533.7" y="507.3" width="2.6" height="18.9"/><rect x="537.1" y="507.3" width="2.6" height="18.1"/><rect x="540.7" y="507.3" width="2.6" height="17.1"/><rect x="543.8" y="507.3" width="2.6" height="16.1"/><rect x="547.0" y="507.3" width="2.6" height="14.1"/><rect x="550.8" y="507.3" width="2.6" height="1.8"/><rect x="554.2" y="506.7" width="1.6" height="1.2"/><rect x="557.4" y="506.7" width="1.6" height="1.2"/><rect x="560.9" y="506.7" width="1.6" height="1.2"/><rect x="564.1" y="506.7" width="1.6" height="1.2"/><rect x="567.5" y="506.7" width="1.6" height="1.2"/><rect x="571.0" y="506.7" width="1.6" height="1.2"/><rect x="574.3" y="506.7" width="1.6" height="1.2"/><rect x="577.8" y="506.7" width="1.6" height="1.2"/><rect x="581.0" y="506.7" width="1.6" height="1.2"/><rect x="583.9" y="504.2" width="2.6" height="3.1"/><rect x="587.4" y="501.2" width="2.6" height="6.1"/><rect x="590.6" y="500.6" width="2.6" height="6.7"/><rect x="593.8" y="500.2" width="2.6" height="7.1"/><rect x="597.3" y="499.7" width="2.6" height="7.6"/><rect x="600.5" y="499.4" width="2.6" height="7.9"/><rect x="603.9" y="499.2" width="2.6" height="8.1"/><rect x="607.4" y="499.1" width="2.6" height="8.2"/><rect x="610.6" y="499.3" width="2.6" height="8.0"/><rect x="614.0" y="499.8" width="2.6" height="7.5"/><rect x="617.3" y="501.6" width="2.6" height="5.7"/><rect x="620.1" y="503.2" width="2.6" height="4.1"/><rect x="623.9" y="503.7" width="2.6" height="3.6"/><rect x="627.2" y="504.2" width="2.6" height="3.1"/><rect x="630.2" y="504.6" width="2.6" height="2.7"/><rect x="634.0" y="505.8" width="2.6" height="1.5"/><rect x="637.8" y="506.7" width="1.6" height="1.2"/><rect x="641.1" y="507.3" width="2.6" height="3.2"/><rect x="644.5" y="507.3" width="2.6" height="4.8"/><rect x="647.2" y="507.3" width="2.6" height="6.1"/><rect x="651.0" y="507.3" width="2.6" height="7.3"/><rect x="654.0" y="507.3" width="2.6" height="7.3"/><rect x="657.3" y="507.3" width="2.6" height="8.3"/><rect x="661.1" y="507.3" width="2.6" height="10.8"/><rect x="664.3" y="507.3" width="2.6" height="7.2"/><rect x="667.7" y="507.3" width="2.6" height="5.9"/><rect x="671.0" y="507.3" width="2.6" height="5.0"/><rect x="674.0" y="507.3" width="2.6" height="3.0"/><rect x="677.7" y="507.3" width="2.6" height="2.3"/><rect x="680.7" y="507.3" width="2.6" height="2.3"/><rect x="683.9" y="507.3" width="2.6" height="2.3"/><rect x="687.7" y="507.3" width="2.6" height="2.3"/><rect x="690.6" y="507.3" width="2.6" height="1.7"/><rect x="694.9" y="506.7" width="1.6" height="1.2"/><rect x="698.3" y="506.7" width="1.6" height="1.2"/><rect x="701.6" y="506.7" width="1.6" height="1.2"/><rect x="704.8" y="506.7" width="1.6" height="1.2"/><rect x="708.2" y="506.7" width="1.6" height="1.2"/><rect x="711.5" y="506.7" width="1.6" height="1.2"/><rect x="714.9" y="506.7" width="1.6" height="1.2"/><rect x="718.2" y="506.7" width="1.6" height="1.2"/><rect x="720.7" y="507.3" width="2.6" height="7.6"/><rect x="724.2" y="507.3" width="2.6" height="10.1"/><rect x="727.4" y="507.3" width="2.6" height="11.2"/><rect x="731.2" y="507.3" width="2.6" height="11.2"/><rect x="734.3" y="507.3" width="2.6" height="11.2"/><rect x="737.5" y="507.3" width="2.6" height="13.0"/><rect x="741.3" y="507.3" width="2.6" height="16.2"/><rect x="744.2" y="507.3" width="2.6" height="16.2"/><rect x="747.6" y="507.3" width="2.6" height="16.2"/><rect x="751.1" y="507.3" width="2.6" height="17.9"/><rect x="754.2" y="507.3" width="2.6" height="28.7"/><rect x="757.7" y="507.3" width="2.6" height="26.9"/><rect x="761.3" y="507.3" width="2.6" height="20.5"/><rect x="764.4" y="507.3" width="2.6" height="13.4"/><rect x="768.0" y="507.3" width="2.6" height="5.1"/><rect x="771.7" y="506.7" width="1.6" height="1.2"/><rect x="774.4" y="498.0" width="2.6" height="9.3"/><rect x="777.8" y="491.1" width="2.6" height="16.2"/><rect x="781.1" y="486.2" width="2.6" height="21.1"/><rect x="784.9" y="482.9" width="2.6" height="24.4"/><rect x="787.7" y="482.9" width="2.6" height="24.4"/><rect x="791.2" y="482.9" width="2.6" height="24.4"/><rect x="795.0" y="485.0" width="2.6" height="22.3"/><rect x="798.2" y="487.6" width="2.6" height="19.7"/><rect x="801.1" y="488.0" width="2.6" height="19.3"/><rect x="804.9" y="488.0" width="2.6" height="19.3"/><rect x="808.1" y="487.0" width="2.6" height="20.3"/><rect x="811.0" y="489.6" width="2.6" height="17.7"/><rect x="814.8" y="493.9" width="2.6" height="13.4"/><rect x="817.8" y="496.2" width="2.6" height="11.1"/><rect x="821.5" y="498.3" width="2.6" height="9.0"/><rect x="824.9" y="500.9" width="2.6" height="6.4"/><rect x="828.1" y="505.0" width="2.6" height="2.3"/><rect x="831.6" y="507.3" width="2.6" height="1.6"/><rect x="834.8" y="507.3" width="2.6" height="2.0"/><rect x="837.7" y="507.3" width="2.6" height="2.3"/><rect x="841.5" y="507.3" width="2.6" height="2.7"/><rect x="844.9" y="507.3" width="2.6" height="3.0"/><rect x="848.3" y="507.3" width="2.6" height="3.4"/><rect x="851.6" y="507.3" width="2.6" height="1.9"/><rect x="855.3" y="506.7" width="1.6" height="1.2"/><rect x="858.7" y="506.7" width="1.6" height="1.2"/><rect x="862.2" y="506.7" width="1.6" height="1.2"/><rect x="865.0" y="506.7" width="1.6" height="1.2"/><rect x="868.0" y="507.3" width="2.6" height="7.3"/><rect x="871.5" y="507.3" width="2.6" height="7.3"/><rect x="874.6" y="507.3" width="2.6" height="7.3"/><rect x="878.3" y="507.3" width="2.6" height="7.3"/><rect x="881.4" y="507.3" width="2.6" height="7.3"/><rect x="884.9" y="507.3" width="2.6" height="7.3"/><rect x="888.2" y="507.3" width="2.6" height="6.1"/><rect x="891.8" y="506.7" width="1.6" height="1.2"/><rect x="895.0" y="507.3" width="2.6" height="4.8"/><rect x="897.9" y="507.3" width="2.6" height="4.8"/><rect x="901.0" y="507.3" width="2.6" height="4.8"/><rect x="905.1" y="507.3" width="2.6" height="4.8"/><rect x="908.2" y="507.3" width="2.6" height="4.2"/><rect x="912.4" y="506.7" width="1.6" height="1.2"/><rect x="915.0" y="501.6" width="2.6" height="5.7"/><rect x="918.1" y="500.7" width="2.6" height="6.6"/><rect x="921.6" y="500.7" width="2.6" height="6.6"/><rect x="925.1" y="500.7" width="2.6" height="6.6"/><rect x="928.2" y="500.7" width="2.6" height="6.6"/><rect x="932.0" y="500.7" width="2.6" height="6.6"/><rect x="935.5" y="500.7" width="2.6" height="6.6"/><rect x="938.8" y="499.1" width="2.6" height="8.2"/><rect x="941.9" y="497.5" width="2.6" height="9.8"/><rect x="945.0" y="496.1" width="2.6" height="11.2"/><rect x="948.5" y="494.4" width="2.6" height="12.9"/><rect x="951.9" y="494.3" width="2.6" height="13.0"/><rect x="955.2" y="494.3" width="2.6" height="13.0"/><rect x="958.5" y="496.4" width="2.6" height="10.9"/><rect x="961.4" y="498.1" width="2.6" height="9.2"/><rect x="964.7" y="498.1" width="2.6" height="9.2"/><rect x="968.1" y="498.1" width="2.6" height="9.2"/><rect x="971.7" y="499.6" width="2.6" height="7.7"/><rect x="975.1" y="507.3" width="2.6" height="2.7"/><rect x="978.4" y="507.3" width="2.6" height="9.8"/><rect x="981.7" y="507.3" width="2.6" height="17.0"/><rect x="985.2" y="507.3" width="2.6" height="21.3"/><rect x="988.6" y="507.3" width="2.6" height="21.3"/><rect x="992.0" y="507.3" width="2.6" height="21.3"/><rect x="995.1" y="507.3" width="2.6" height="21.3"/><rect x="998.5" y="507.3" width="2.6" height="21.3"/><rect x="1002.5" y="507.3" width="2.6" height="20.8"/><rect x="1005.4" y="507.3" width="2.6" height="20.4"/><rect x="1008.8" y="507.3" width="2.6" height="19.7"/><rect x="1012.0" y="507.3" width="2.6" height="11.2"/><rect x="1015.4" y="507.3" width="2.6" height="11.2"/><rect x="1018.3" y="507.3" width="2.6" height="11.2"/><rect x="1021.9" y="507.3" width="2.6" height="11.2"/><rect x="1025.3" y="507.3" width="2.6" height="8.5"/><rect x="1028.3" y="507.3" width="2.6" height="6.1"/><rect x="1031.8" y="507.3" width="2.6" height="6.1"/><rect x="1035.2" y="507.3" width="2.6" height="6.1"/><rect x="1038.8" y="507.3" width="2.6" height="2.0"/><rect x="1042.7" y="506.7" width="1.6" height="1.2"/><rect x="1045.6" y="506.7" width="1.6" height="1.2"/><rect x="1048.7" y="503.2" width="2.6" height="4.1"/><rect x="1052.1" y="503.2" width="2.6" height="4.1"/><rect x="1055.4" y="503.2" width="2.6" height="4.1"/><rect x="1059.0" y="503.2" width="2.6" height="4.1"/><rect x="1062.4" y="503.2" width="2.6" height="4.1"/><rect x="1065.8" y="503.2" width="2.6" height="4.1"/><rect x="1069.0" y="500.0" width="2.6" height="7.3"/><rect x="1072.3" y="495.4" width="2.6" height="11.9"/><rect x="1075.5" y="493.0" width="2.6" height="14.3"/><rect x="1078.9" y="492.8" width="2.6" height="14.5"/><rect x="1082.2" y="492.7" width="2.6" height="14.6"/><rect x="1085.6" y="493.1" width="2.6" height="14.2"/><rect x="1088.8" y="494.3" width="2.6" height="13.0"/><rect x="1092.7" y="494.3" width="2.6" height="13.0"/><rect x="1095.7" y="494.3" width="2.6" height="13.0"/><rect x="1098.9" y="494.3" width="2.6" height="13.0"/><rect x="1102.7" y="494.3" width="2.6" height="13.0"/><rect x="1105.6" y="494.3" width="2.6" height="13.0"/><rect x="1108.8" y="494.3" width="2.6" height="13.0"/><rect x="1112.3" y="494.3" width="2.6" height="13.0"/><rect x="1115.5" y="499.1" width="2.6" height="8.2"/><rect x="1118.9" y="499.4" width="2.6" height="7.9"/><rect x="1122.4" y="499.4" width="2.6" height="7.9"/><rect x="1125.6" y="499.4" width="2.6" height="7.9"/><rect x="1129.4" y="499.4" width="2.6" height="7.9"/><rect x="1132.3" y="499.4" width="2.6" height="7.9"/><rect x="1135.7" y="499.4" width="2.6" height="7.9"/><rect x="1139.5" y="504.6" width="2.6" height="2.7"/><rect x="1142.4" y="504.9" width="2.6" height="2.4"/><rect x="1146.2" y="506.7" width="1.6" height="1.2"/><rect x="1149.1" y="507.3" width="2.6" height="5.3"/><rect x="1152.3" y="507.3" width="2.6" height="10.0"/><rect x="1155.9" y="507.3" width="2.6" height="15.0"/><rect x="1159.2" y="507.3" width="2.6" height="15.0"/><rect x="1162.1" y="507.3" width="2.6" height="15.0"/><rect x="1165.9" y="507.3" width="2.6" height="15.0"/><rect x="1169.2" y="507.3" width="2.6" height="15.0"/><rect x="1172.4" y="507.3" width="2.6" height="15.0"/><rect x="1176.2" y="507.3" width="2.6" height="15.0"/><rect x="1179.3" y="507.3" width="2.6" height="11.7"/><rect x="1182.9" y="507.3" width="2.6" height="8.7"/><rect x="1185.9" y="507.3" width="2.6" height="8.7"/><rect x="1189.2" y="507.3" width="2.6" height="8.7"/><rect x="1193.0" y="507.3" width="2.6" height="7.0"/><rect x="1195.8" y="507.3" width="2.6" height="3.5"/><rect x="1198.1" y="507.3" width="2.6" height="1.9"/></g><path d="M0.0,469.2 C2.8,470.7 11.1,475.2 16.7,478.3 C22.2,481.4 27.7,484.9 33.3,487.5 C38.8,490.1 44.4,492.3 50.0,493.7 C55.6,495.1 61.2,495.8 66.7,495.8 C72.2,495.8 77.8,494.3 83.3,493.7 C88.8,493.1 94.4,492.6 100.0,492.0 C105.6,491.4 111.2,490.6 116.7,490.3 C122.2,490.0 129.1,490.0 133.3,490.0 C137.5,490.0 137.5,489.5 141.7,490.3 C145.9,491.1 152.8,493.4 158.3,495.0 C163.9,496.6 169.4,498.5 175.0,499.7 C180.6,500.9 187.5,501.9 191.7,502.2 C195.9,502.5 196.4,500.9 200.0,501.7 C203.6,502.5 207.8,505.9 213.3,507.0 C218.9,508.1 227.2,508.2 233.3,508.3 C239.4,508.4 244.4,508.8 250.0,507.5 C255.6,506.2 261.1,502.8 266.7,500.8 C272.2,498.9 277.8,496.8 283.3,495.8 C288.9,494.8 294.4,494.7 300.0,495.0 C305.6,495.3 311.7,496.7 316.7,497.5 C321.7,498.3 325.8,498.7 330.0,499.7 C334.2,500.7 337.8,501.9 341.7,503.3 C345.6,504.7 349.7,506.5 353.3,508.0 C356.9,509.5 359.7,511.0 363.3,512.5 C366.9,514.0 371.7,516.0 375.0,517.0 C378.3,518.0 380.5,517.7 383.3,518.3 C386.1,518.9 388.9,519.7 391.7,520.8 C394.5,521.9 397.2,523.7 400.0,524.7 C402.8,525.7 405.5,526.1 408.3,526.7 C411.1,527.3 412.5,529.4 416.7,528.3 C420.9,527.2 427.8,523.0 433.3,520.0 C438.9,517.0 444.4,513.6 450.0,510.0 C455.6,506.4 462.5,501.1 466.7,498.3 C470.9,495.5 472.2,494.5 475.0,493.0 C477.8,491.5 480.5,490.4 483.3,489.2 C486.1,488.0 488.9,486.8 491.7,485.8 C494.5,484.8 497.5,484.1 500.0,483.3 C502.5,482.6 503.9,481.4 506.7,481.3 C509.5,481.2 513.9,481.6 516.7,482.5 C519.5,483.4 521.1,484.3 523.3,486.7 C525.5,489.1 527.8,493.1 530.0,496.7 C532.2,500.3 534.5,505.1 536.7,508.3 C538.9,511.5 541.1,514.2 543.3,515.8 C545.5,517.4 547.5,517.6 550.0,518.0 C552.5,518.4 555.5,518.2 558.3,518.0 C561.1,517.8 563.9,516.9 566.7,516.7 C569.5,516.5 572.2,516.8 575.0,516.7 C577.8,516.6 580.5,516.9 583.3,516.3 C586.1,515.7 588.9,514.6 591.7,513.3 C594.5,512.0 596.9,511.9 600.0,508.7 C603.1,505.5 606.8,497.0 610.2,494.3 C613.6,491.6 616.9,492.6 620.3,492.6 C623.7,492.6 627.1,493.6 630.5,494.3 C633.9,495.0 637.2,495.2 640.6,496.9 C644.0,498.6 647.8,501.8 650.8,504.5 C653.8,507.2 655.9,511.3 658.4,513.4 C660.9,515.5 663.0,516.4 666.0,517.2 C669.0,518.1 672.3,517.9 676.1,518.5 C679.9,519.1 684.6,520.4 688.8,521.0 C693.0,521.6 697.7,522.1 701.5,522.3 C705.3,522.5 708.7,521.9 711.7,522.3 C714.7,522.7 716.8,523.3 719.3,524.8 C721.8,526.3 723.5,527.5 726.9,531.1 C730.3,534.7 735.4,540.9 739.6,546.4 C743.8,551.9 748.5,559.0 752.3,564.1 C756.1,569.2 759.4,573.8 762.4,576.8 C765.4,579.8 767.5,581.9 770.1,581.9 C772.7,581.9 774.8,580.6 777.7,576.8 C780.7,573.0 784.1,565.4 787.8,559.1 C791.5,552.8 796.7,543.9 800.0,538.8 C803.3,533.7 805.1,532.0 807.6,528.6 C810.1,525.2 812.2,521.7 815.2,518.5 C818.2,515.3 822.4,511.3 825.4,509.6 C828.4,507.9 829.6,507.9 833.0,508.3 C836.4,508.7 841.5,511.1 845.7,512.1 C849.9,513.1 853.3,513.3 858.4,514.6 C863.5,515.9 871.0,518.4 876.1,519.7 C881.2,521.0 884.6,521.2 888.8,522.3 C893.0,523.4 897.7,525.3 901.5,526.1 C905.3,526.9 908.3,527.9 911.7,527.3 C915.1,526.7 918.0,524.0 921.8,522.3 C925.6,520.6 930.3,519.5 934.5,517.2 C938.7,514.9 943.4,511.3 947.2,508.3 C951.0,505.3 954.0,501.9 957.4,499.4 C960.8,496.9 964.5,494.5 967.5,493.1 C970.5,491.8 972.6,490.7 975.1,491.3 C977.6,491.9 979.7,493.6 982.7,496.9 C985.7,500.1 990.0,506.6 992.9,510.8 C995.8,515.0 998.0,518.9 1000.0,522.3 C1002.0,525.7 1002.6,528.1 1005.1,531.1 C1007.6,534.1 1011.8,537.5 1015.2,540.0 C1018.6,542.5 1022.0,544.5 1025.4,546.4 C1028.8,548.3 1032.1,550.3 1035.5,551.4 C1038.9,552.5 1041.9,552.9 1045.7,552.7 C1049.5,552.5 1054.6,551.5 1058.4,550.2 C1062.2,548.9 1065.1,547.9 1068.5,545.1 C1071.9,542.4 1075.3,537.3 1078.7,533.7 C1082.1,530.1 1085.0,527.1 1088.8,523.5 C1092.6,519.9 1097.3,516.3 1101.5,512.1 C1105.7,507.9 1110.0,501.7 1114.2,498.1 C1118.4,494.5 1123.1,492.4 1126.9,490.5 C1130.7,488.6 1133.7,487.2 1137.1,486.7 C1140.5,486.2 1143.8,486.0 1147.2,487.5 C1150.6,489.0 1154.0,492.4 1157.4,495.6 C1160.8,498.9 1164.1,503.4 1167.5,507.0 C1170.9,510.6 1174.3,514.2 1177.7,517.2 C1181.1,520.2 1184.8,523.1 1187.8,524.8 C1190.8,526.5 1193.4,527.3 1195.4,527.3 C1197.4,527.3 1199.2,525.2 1200.0,524.8" fill="none" stroke="#f08a50" stroke-width="1"/><path d="M0.0,472.5 C1.4,472.9 5.5,473.9 8.3,474.6 C11.1,475.3 13.9,475.7 16.7,476.7 C19.5,477.7 22.9,479.0 25.0,480.8 C27.1,482.6 27.8,485.4 29.2,487.5 C30.6,489.6 31.5,492.1 33.3,493.3 C35.1,494.6 38.0,495.0 40.0,495.0 C42.0,495.0 43.0,493.2 45.0,493.3 C47.0,493.4 49.8,494.8 51.7,495.8 C53.7,496.8 55.0,499.3 56.7,499.2 C58.4,499.1 59.8,495.8 61.7,495.0 C63.6,494.2 66.1,493.9 68.3,494.2 C70.5,494.5 72.5,496.7 75.0,496.7 C77.5,496.7 80.0,494.8 83.3,494.2 C86.6,493.6 91.7,493.2 95.0,493.0 C98.3,492.8 100.5,493.5 103.3,493.0 C106.1,492.5 108.9,490.8 111.7,490.0 C114.5,489.2 117.0,488.2 120.0,488.3 C123.0,488.4 127.0,490.2 130.0,490.3 C133.1,490.4 135.8,489.2 138.3,489.2 C140.8,489.2 142.5,489.3 145.0,490.3 C147.5,491.3 150.5,493.6 153.3,495.0 C156.1,496.4 158.9,497.7 161.7,498.7 C164.5,499.7 166.9,500.4 170.0,500.8 C173.1,501.2 177.2,500.5 180.0,501.3 C182.8,502.1 184.8,505.6 186.7,505.8 C188.6,506.0 189.5,503.4 191.7,502.5 C193.9,501.6 197.5,500.2 200.0,500.3 C202.5,500.4 204.5,502.0 206.7,503.3 C208.9,504.6 210.2,507.4 213.3,508.3 C216.4,509.2 221.7,508.7 225.0,508.7 C228.3,508.7 230.2,508.2 233.3,508.3 C236.4,508.4 240.5,509.5 243.3,509.2 C246.1,508.9 247.5,507.7 250.0,506.7 C252.5,505.7 255.5,504.6 258.3,503.3 C261.1,502.0 263.6,500.5 266.7,498.7 C269.8,496.9 273.9,493.4 276.7,492.5 C279.5,491.6 280.8,492.6 283.3,493.0 C285.8,493.4 288.9,494.7 291.7,495.0 C294.5,495.3 297.2,494.7 300.0,495.0 C302.8,495.3 305.5,496.4 308.3,497.0 C311.1,497.6 313.9,497.9 316.7,498.7 C319.5,499.5 322.2,501.5 325.0,502.0 C327.8,502.5 331.1,500.9 333.3,501.7 C335.5,502.5 336.4,505.9 338.3,507.0 C340.2,508.1 342.5,507.6 345.0,508.0 C347.5,508.4 350.8,507.5 353.3,509.2 C355.8,510.9 357.8,516.0 360.0,518.3 C362.2,520.6 364.2,523.0 366.7,523.0 C369.2,523.0 372.2,518.5 375.0,518.3 C377.8,518.1 380.5,520.3 383.3,521.7 C386.1,523.1 388.9,525.2 391.7,526.7 C394.5,528.2 397.2,530.3 400.0,530.8 C402.8,531.3 405.5,530.2 408.3,529.7 C411.1,529.2 413.9,529.7 416.7,527.5 C419.5,525.3 422.2,519.5 425.0,516.7 C427.8,513.9 430.5,512.5 433.3,510.8 C436.1,509.1 438.9,508.2 441.7,506.7 C444.5,505.2 447.2,503.4 450.0,501.7 C452.8,500.0 455.5,498.5 458.3,496.7 C461.1,494.9 463.9,492.8 466.7,490.8 C469.5,488.9 472.2,486.3 475.0,485.0 C477.8,483.7 480.5,483.6 483.3,483.0 C486.1,482.4 488.9,482.3 491.7,481.7 C494.5,481.1 497.5,479.8 500.0,479.5 C502.5,479.2 504.5,479.1 506.7,479.7 C508.9,480.3 511.1,481.6 513.3,483.3 C515.5,485.0 518.0,487.2 520.0,490.0 C522.0,492.8 523.3,495.8 525.0,500.0 C526.7,504.2 528.0,511.0 530.0,515.0 C532.0,519.0 534.6,521.6 536.7,524.2 C538.8,526.8 540.8,530.4 542.5,530.8 C544.2,531.2 544.9,528.6 546.7,526.7 C548.5,524.8 551.1,520.7 553.3,519.2 C555.5,517.7 557.8,517.9 560.0,517.5 C562.2,517.1 564.5,517.0 566.7,516.7 C568.9,516.4 571.1,515.5 573.3,515.8 C575.5,516.1 578.0,518.1 580.0,518.3 C582.0,518.4 583.0,518.4 585.0,516.7 C587.0,515.0 589.2,511.0 591.7,508.3 C594.2,505.6 597.8,502.6 600.0,500.7 C602.2,498.8 603.3,498.2 605.0,496.9 C606.7,495.6 608.5,494.0 610.2,493.1 C611.9,492.2 613.5,491.4 615.2,491.3 C616.9,491.2 618.6,492.3 620.3,492.6 C622.0,492.9 622.9,492.6 625.4,493.1 C627.9,493.6 632.5,494.6 635.5,495.6 C638.5,496.7 640.6,497.5 643.1,499.4 C645.6,501.3 648.7,504.5 650.8,507.0 C652.9,509.5 654.1,512.1 655.8,514.6 C657.5,517.1 658.8,520.6 660.9,522.3 C663.0,524.0 666.4,525.0 668.5,524.8 C670.6,524.6 671.5,521.5 673.6,521.0 C675.7,520.5 678.7,520.7 681.2,521.5 C683.7,522.3 686.3,525.4 688.8,525.6 C691.3,525.9 693.8,523.1 696.4,523.0 C699.0,522.9 701.5,524.8 704.1,524.8 C706.7,524.8 709.2,522.4 711.7,523.0 C714.2,523.6 716.8,526.0 719.3,528.6 C721.8,531.2 724.4,535.4 726.9,538.8 C729.4,542.2 732.0,545.1 734.5,548.9 C737.0,552.7 739.6,556.5 742.1,561.6 C744.6,566.7 747.6,574.1 749.7,579.4 C751.8,584.7 753.3,589.6 754.8,593.3 C756.3,597.0 756.9,601.7 758.6,601.7 C760.3,601.7 762.9,596.2 765.0,593.3 C767.1,590.4 769.2,589.3 771.3,584.4 C773.4,579.5 775.4,571.3 777.7,564.1 C780.0,556.9 782.8,547.6 785.3,541.3 C787.8,535.0 790.4,529.7 792.9,526.1 C795.4,522.5 797.5,522.5 800.0,519.7 C802.5,517.0 805.1,511.7 807.6,509.6 C810.1,507.5 812.2,507.4 815.2,507.0 C818.2,506.6 822.4,506.8 825.4,507.0 C828.4,507.2 830.5,507.2 833.0,508.3 C835.5,509.4 838.1,511.9 840.6,513.4 C843.1,514.9 845.2,517.2 848.2,517.2 C851.2,517.2 855.4,513.6 858.4,513.4 C861.4,513.2 863.5,514.1 866.0,516.0 C868.5,517.9 871.1,523.8 873.6,524.8 C876.1,525.8 878.7,523.1 881.2,522.3 C883.7,521.4 886.3,519.3 888.8,519.7 C891.3,520.1 893.8,522.9 896.4,524.8 C899.0,526.7 902.0,530.0 904.1,531.1 C906.2,532.2 907.0,533.0 909.1,531.1 C911.2,529.2 913.8,522.5 916.8,519.7 C919.8,517.0 923.9,516.3 926.9,514.6 C929.9,512.9 932.0,510.9 934.5,509.6 C937.0,508.3 939.6,509.1 942.1,507.0 C944.6,504.9 947.2,499.6 949.7,496.9 C952.2,494.1 954.9,492.4 957.4,490.5 C959.9,488.6 962.9,486.7 965.0,485.5 C967.1,484.3 968.3,483.0 970.0,483.4 C971.7,483.8 973.4,485.6 975.1,488.0 C976.8,490.4 978.5,493.9 980.2,498.1 C981.9,502.3 983.2,507.5 985.3,513.4 C987.4,519.3 990.4,528.6 992.9,533.7 C995.4,538.8 997.1,540.8 1000.0,543.8 C1002.9,546.8 1006.8,550.2 1010.2,551.4 C1013.6,552.6 1016.9,550.5 1020.3,550.9 C1023.7,551.3 1027.3,552.7 1030.5,554.0 C1033.7,555.3 1036.3,559.0 1039.3,558.6 C1042.2,558.2 1045.0,553.2 1048.2,551.4 C1051.4,549.6 1055.4,549.3 1058.4,547.6 C1061.4,545.9 1063.5,544.9 1066.0,541.3 C1068.5,537.7 1071.1,529.9 1073.6,526.1 C1076.1,522.3 1078.2,520.6 1081.2,518.5 C1084.2,516.4 1088.4,515.5 1091.4,513.4 C1094.4,511.3 1096.5,508.1 1099.0,505.8 C1101.5,503.5 1104.1,502.1 1106.6,499.4 C1109.1,496.6 1111.7,491.3 1114.2,489.3 C1116.7,487.3 1119.3,488.2 1121.8,487.5 C1124.3,486.8 1126.9,486.2 1129.4,485.0 C1132.0,483.8 1134.5,480.5 1137.1,480.4 C1139.6,480.3 1142.2,481.7 1144.7,484.2 C1147.2,486.7 1149.8,491.6 1152.3,495.6 C1154.8,499.6 1157.4,504.3 1159.9,508.3 C1162.4,512.3 1164.5,515.9 1167.5,519.7 C1170.5,523.5 1174.7,528.6 1177.7,531.1 C1180.7,533.6 1182.8,534.8 1185.3,535.0 C1187.8,535.2 1190.5,534.5 1192.9,532.4 C1195.4,530.3 1198.8,524.0 1200.0,522.3" fill="none" stroke="#a8384a" stroke-width="1"/><path d="M757.8,397.3 L761.0,400.90000000000003 L759.0999999999999,400.90000000000003 L759.0999999999999,404.8 L756.5,404.8 L756.5,400.90000000000003 L754.5999999999999,400.90000000000003 Z" fill="#8cc050" stroke="#5c9a30" stroke-width="0.8"/><path d="M1034.2,399.5 L1037.4,403.1 L1035.5,403.1 L1035.5,407.0 L1032.9,407.0 L1032.9,403.1 L1031.0,403.1 Z" fill="#8cc050" stroke="#5c9a30" stroke-width="0.8"/><path d="M1064.2,398.8 L1067.4,402.40000000000003 L1065.5,402.40000000000003 L1065.5,406.3 L1062.9,406.3 L1062.9,402.40000000000003 L1061.0,402.40000000000003 Z" fill="#8cc050" stroke="#5c9a30" stroke-width="0.8"/><path d="M1182.5,394 L1185.7,397.6 L1183.8,397.6 L1183.8,401.5 L1181.2,401.5 L1181.2,397.6 L1179.3,397.6 Z" fill="#8cc050" stroke="#5c9a30" stroke-width="0.8"/><path d="M964.8,168.7 L968.0,165.1 L966.0999999999999,165.1 L966.0999999999999,161.2 L963.5,161.2 L963.5,165.1 L961.5999999999999,165.1 Z" fill="#d86a5a" stroke="#b03a30" stroke-width="0.8"/><path d="M1136.7,247.8 L1139.9,244.20000000000002 L1138.0,244.20000000000002 L1138.0,240.3 L1135.4,240.3 L1135.4,244.20000000000002 L1133.5,244.20000000000002 Z" fill="#d86a5a" stroke="#b03a30" stroke-width="0.8"/><path d="M1139,466.5 L1142.2,462.9 L1140.3,462.9 L1140.3,459.0 L1137.7,459.0 L1137.7,462.9 L1135.8,462.9 Z" fill="#d86a5a" stroke="#b03a30" stroke-width="0.8"/><g font-family="Liberation Sans, sans-serif" font-size="9" fill="#2d4060"><rect x="40.5" y="220.5" width="17.8" height="13.5" fill="#c8d8ef" stroke="#5a6a80" stroke-width="1"/><text x="49.4" y="231" text-anchor="middle">100</text><rect x="184.5" y="232.5" width="18" height="13.8" fill="#c8d8ef" stroke="#3a4a60" stroke-width="1"/><text x="193.5" y="243" text-anchor="middle">200</text></g><rect x="0" y="438" width="1200" height="2.5" fill="#f3a866"/><rect x="0" y="440.5" width="1200" height="4" fill="#2e3d4c"/><rect x="0" y="626" width="1200" height="1.5" fill="#b6bac2"/><rect x="0" y="627.5" width="1200" height="2.5" fill="#e6e8ec"/><defs><linearGradient id="hg" x1="0" y1="0" x2="0" y2="1"><stop offset="0" stop-color="#f3f3f3"/><stop offset="0.25" stop-color="#e7edf1"/><stop offset="1" stop-color="#e1e3e7"/></linearGradient></defs><rect x="0" y="0" width="1200" height="1" fill="#d9c2ab"/><rect x="0" y="1" width="1200" height="1" fill="#fae9da"/><rect x="0" y="2" width="1200" height="15.6" fill="url(#hg)"/><rect x="0" y="17.5" width="1200" height="1.6" fill="#bba496"/><rect x="0" y="19" width="1200" height="2" fill="#f0b266"/><rect x="0" y="21" width="1200" height="1" fill="#fcebd0"/><text x="-0.5" y="14.1" font-family="Liberation Sans, sans-serif" font-size="12.7" fill="#3e4247">cy) (24 godz.)</text><text x="-12.2" y="29.8" font-family="Liberation Mono, monospace" font-size="8.67" xml:space="preserve"><tspan fill="#e0707a">EMA:&#160;</tspan><tspan fill="#d03a50">13&#160;130.55&#160;</tspan><tspan fill="#f2b47c">EMA:&#160;</tspan><tspan fill="#d03a50">13&#160;416.59&#160;</tspan><tspan fill="#8fa75a">EMA:&#160;</tspan><tspan fill="#d03a50">13&#160;876.98&#160;</tspan><tspan fill="#7f9fd8">SMA:&#160;</tspan><tspan fill="#d03a50">14&#160;110.44&#160;</tspan><tspan fill="#c2a878">SMA:&#160;</tspan><tspan fill="#d03a50">13&#160;390.44&#160;</tspan><tspan fill="#4fb88a">SMA:&#160;</tspan><tspan fill="#d03a50">13&#160;206.12</tspan></text><text x="-2" y="454.3" font-family="Liberation Mono, monospace" font-size="8.67"><tspan fill="#eea070">Signal:&#160;</tspan><tspan fill="#d03a50">-115.17&#160;</tspan><tspan fill="#7f9a4a">MACD&#160;Histogram:&#160;</tspan><tspan fill="#d03a50">-29.57</tspan></text></svg></body></html>
